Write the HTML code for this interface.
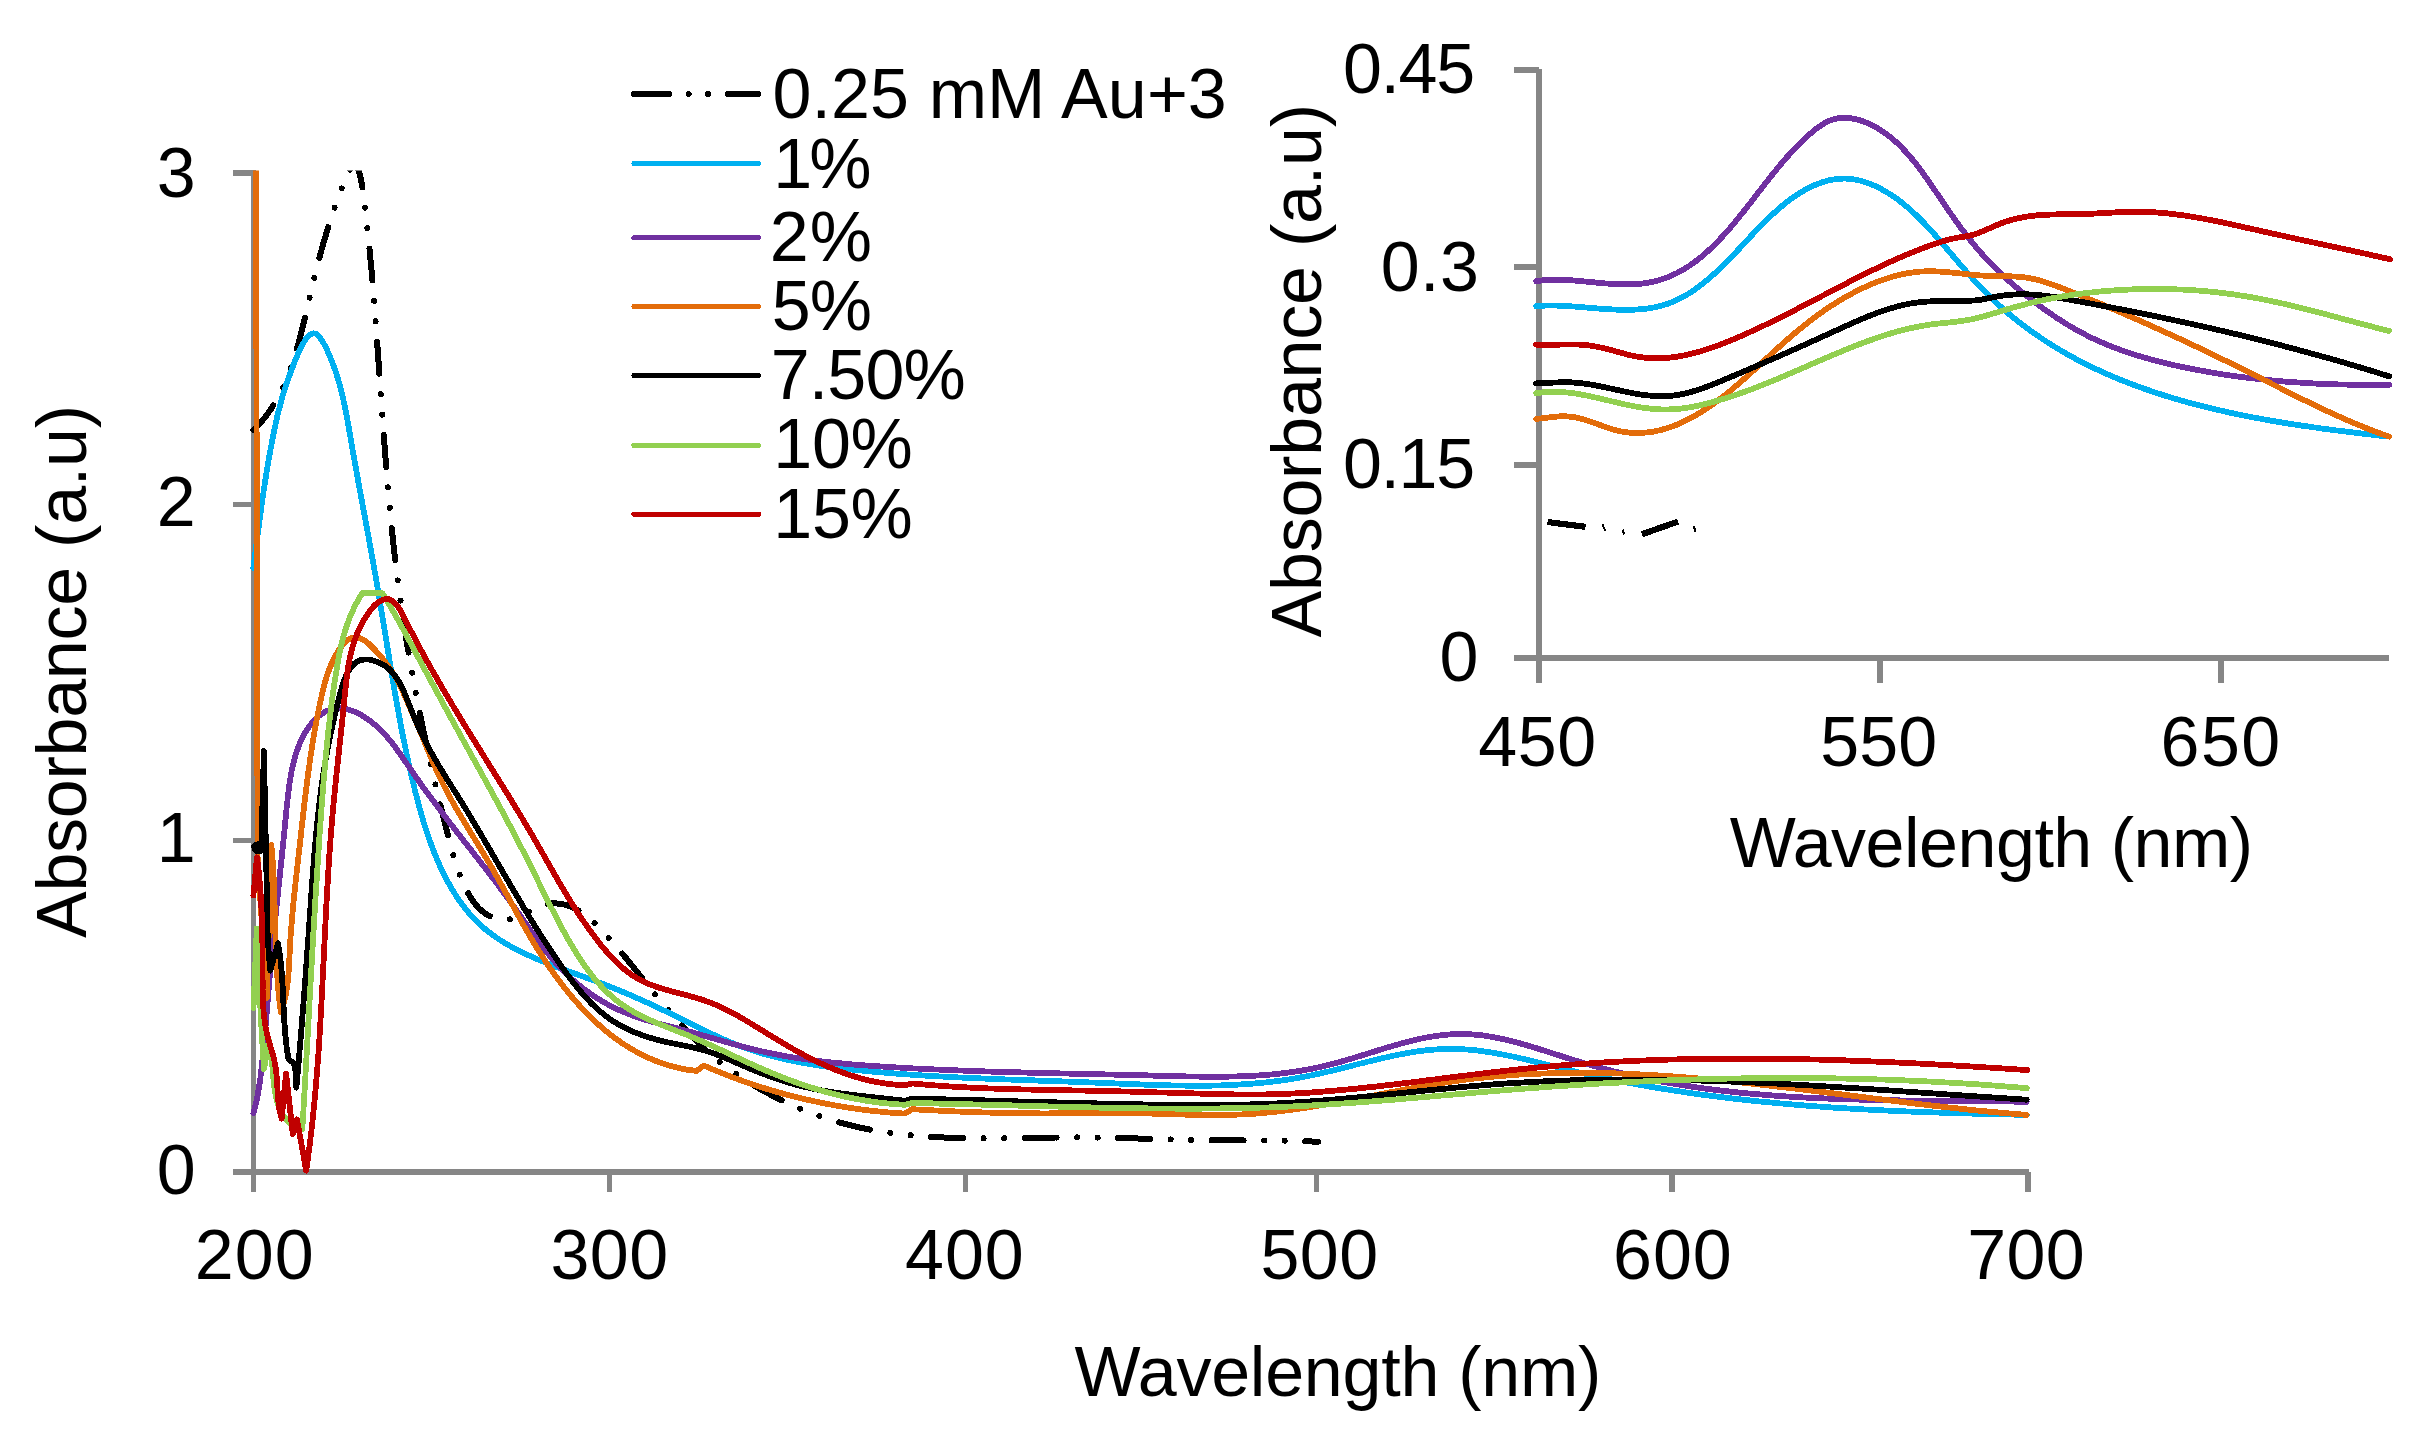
<!DOCTYPE html>
<html><head><meta charset="utf-8"><title>UV-Vis absorbance chart</title>
<style>
html,body{margin:0;padding:0;background:#fff;}
body{width:2418px;height:1433px;overflow:hidden;position:relative;font-family:"Liberation Sans",Arial,sans-serif;}
svg{position:absolute;left:0;top:0;display:block}
text{font-family:"Liberation Sans",Arial,sans-serif;font-size:70px;fill:#000;}
.ax{stroke:#868686;fill:none;stroke-linecap:butt}
.c{fill:none;stroke-width:5.8;stroke-linejoin:round;stroke-linecap:round}
</style></head><body>
<svg width="2418" height="1433" viewBox="0 0 2418 1433" shape-rendering="crispEdges">
<defs><clipPath id="mc"><rect x="240" y="170.5" width="1800" height="1010"/></clipPath></defs>
<rect width="2418" height="1433" fill="#fff"/>

<g class="ax">
<path d="M253.5 170V1192" stroke-width="5"/>
<path d="M233 1172H2029" stroke-width="6"/>
<path d="M233 173.0H253" stroke-width="6"/>
<path d="M233 504.4H253" stroke-width="5"/>
<path d="M233 840.5H253" stroke-width="5"/>
<path d="M609.5 1172V1192" stroke-width="5"/>
<path d="M965.5 1172V1192" stroke-width="5"/>
<path d="M1316.5 1172V1192" stroke-width="5"/>
<path d="M1672.0 1172V1192" stroke-width="6"/>
<path d="M2028.0 1172V1192" stroke-width="6"/>
</g>
<g class="ax" stroke-width="6">
<path d="M1539 69V682.8"/>
<path d="M1514 658H2389"/>
<path d="M1514 465.0H1539"/>
<path d="M1514 267.0H1539"/>
<path d="M1514 70.0H1539"/>
<path d="M1879.8 658V682.8"/>
<path d="M2220.7 658V682.8"/>
</g>
<g class="c" clip-path="url(#mc)">
<path d="M253.3 430.1 C254.4 429.0 257.7 425.8 259.7 423.6 C261.7 421.3 263.6 419.0 265.5 416.6 C267.3 414.3 269.0 411.8 270.7 409.4 C272.4 406.9 273.9 404.4 275.4 401.8 C277.0 399.2 278.4 396.6 279.8 394.0 C281.1 391.3 282.4 388.6 283.7 385.9 C284.9 383.2 286.1 380.4 287.2 377.6 C288.3 374.8 289.4 372.0 290.4 369.1 C291.4 366.3 292.4 363.4 293.3 360.5 C294.3 357.7 295.2 354.8 296.0 351.8 C296.9 348.9 297.7 346.0 298.5 343.0 C299.3 340.1 300.1 337.1 300.8 334.2 C301.6 331.2 302.3 328.3 303.0 325.3 C303.8 322.4 304.5 319.4 305.2 316.4 C305.9 313.5 306.6 310.6 307.3 307.6 C308.0 304.7 308.6 301.8 309.3 298.8 C310.0 295.9 310.7 293.0 311.4 290.1 C312.1 287.2 312.8 284.3 313.5 281.4 C314.2 278.5 314.9 275.6 315.6 272.7 C316.3 269.8 317.1 266.9 317.8 264.1 C318.6 261.2 319.3 258.3 320.1 255.4 C320.8 252.6 321.6 249.7 322.4 246.8 C323.2 244.0 324.0 241.1 324.9 238.2 C325.7 235.4 326.6 232.5 327.4 229.6 C328.3 226.7 329.2 223.9 330.2 221.0 C331.1 218.1 332.0 215.2 333.0 212.3 C334.0 209.3 335.0 206.4 336.1 203.5 C337.1 200.5 338.2 197.6 339.3 194.6 C340.4 191.6 341.6 188.6 342.8 185.6 C344.0 182.7 345.2 179.5 346.5 176.8 C347.7 174.1 349.0 171.2 350.4 169.1 C351.7 167.1 353.2 164.2 354.6 164.4 C356.0 164.6 357.5 168.0 358.6 170.5 C359.7 173.0 360.4 176.6 361.0 179.6 C361.6 182.6 362.0 185.6 362.4 188.6 C362.8 191.6 363.2 194.6 363.6 197.6 C364.0 200.6 364.4 203.6 364.8 206.6 C365.2 209.6 365.6 212.6 365.9 215.6 C366.3 218.6 366.6 221.6 367.0 224.6 C367.3 227.6 367.6 230.6 368.0 233.6 C368.3 236.6 368.6 239.6 368.9 242.6 C369.2 245.6 369.5 248.6 369.8 251.6 C370.1 254.6 370.4 257.7 370.6 260.7 C370.9 263.7 371.2 266.7 371.5 269.7 C371.7 272.7 372.0 275.7 372.2 278.7 C372.5 281.7 372.7 284.7 373.0 287.7 C373.2 290.7 373.5 293.7 373.7 296.7 C374.0 299.7 374.2 302.7 374.4 305.8 C374.7 308.8 374.9 311.8 375.1 314.8 C375.3 317.8 375.6 320.8 375.8 323.8 C376.0 326.8 376.2 329.8 376.5 332.8 C376.7 335.8 376.9 338.8 377.1 341.8 C377.3 344.8 377.5 347.9 377.8 350.9 C378.0 353.9 378.2 356.9 378.4 359.9 C378.6 362.9 378.8 365.9 379.0 368.9 C379.2 371.9 379.4 374.9 379.6 377.9 C379.9 380.9 380.1 383.9 380.3 386.9 C380.5 389.9 380.7 393.0 380.9 396.0 C381.1 399.0 381.3 402.0 381.5 405.0 C381.8 408.0 382.0 411.0 382.2 414.0 C382.4 417.0 382.6 420.0 382.8 423.0 C383.1 426.0 383.3 429.0 383.5 432.0 C383.7 435.0 383.9 438.0 384.2 441.0 C384.4 444.0 384.6 447.0 384.9 450.0 C385.1 453.0 385.3 456.0 385.6 459.0 C385.8 462.0 386.0 465.0 386.3 468.0 C386.5 471.0 386.8 474.0 387.0 477.0 C387.3 480.0 387.5 483.0 387.8 486.0 C388.0 489.0 388.3 492.0 388.6 495.0 C388.8 498.0 389.1 501.0 389.4 504.0 C389.7 507.0 390.0 510.0 390.2 513.0 C390.5 516.0 390.8 519.0 391.1 522.0 C391.4 525.0 391.7 528.0 392.0 531.0 C392.3 534.0 392.7 537.0 393.0 540.0 C393.3 543.0 393.6 545.9 394.0 548.9 C394.3 551.9 394.6 554.9 395.0 557.9 C395.3 560.9 395.7 563.9 396.1 566.9 C396.4 569.9 396.8 572.9 397.2 575.8 C397.6 578.8 397.9 581.8 398.3 584.8 C398.7 587.8 399.1 590.8 399.5 593.8 C399.9 596.7 400.4 599.7 400.8 602.7 C401.2 605.7 401.6 608.7 402.1 611.7 C402.5 614.6 403.0 617.6 403.4 620.6 C403.9 623.6 404.3 626.6 404.8 629.5 C405.3 632.5 405.8 635.5 406.2 638.5 C406.7 641.4 407.2 644.4 407.7 647.4 C408.2 650.4 408.7 653.3 409.2 656.3 C409.7 659.3 410.3 662.3 410.8 665.2 C411.3 668.2 411.9 671.2 412.4 674.1 C412.9 677.1 413.5 680.1 414.0 683.0 C414.6 686.0 415.1 689.0 415.7 691.9 C416.3 694.9 416.8 697.9 417.4 700.8 C418.0 703.8 418.6 706.8 419.2 709.7 C419.8 712.7 420.4 715.6 421.0 718.6 C421.6 721.6 422.2 724.5 422.8 727.5 C423.4 730.4 424.0 733.4 424.7 736.3 C425.3 739.3 425.9 742.2 426.6 745.2 C427.2 748.1 427.9 751.1 428.5 754.0 C429.2 757.0 429.8 759.9 430.5 762.9 C431.1 765.8 431.8 768.8 432.5 771.7 C433.2 774.7 433.8 777.6 434.5 780.5 C435.2 783.5 435.9 786.4 436.6 789.4 C437.3 792.3 438.0 795.2 438.7 798.2 C439.4 801.1 440.1 804.1 440.8 807.0 C441.5 809.9 442.3 812.9 443.0 815.8 C443.7 818.7 444.5 821.6 445.2 824.6 C445.9 827.5 446.7 830.4 447.4 833.4 C448.2 836.3 448.9 839.2 449.7 842.1 C450.4 845.0 451.2 848.0 452.0 850.9 C452.8 853.8 453.6 856.7 454.5 859.5 C455.4 862.4 456.3 865.2 457.3 868.1 C458.2 870.9 459.2 873.7 460.3 876.5 C461.4 879.2 462.6 882.0 463.8 884.7 C465.1 887.4 466.4 890.1 467.9 892.7 C469.3 895.3 470.8 897.9 472.5 900.3 C474.2 902.7 475.9 905.1 477.9 907.2 C479.9 909.3 482.1 911.3 484.5 913.0 C486.9 914.6 489.5 916.1 492.4 917.2 C495.2 918.2 498.4 919.0 501.4 919.3 C504.5 919.7 507.7 919.6 510.7 919.1 C513.7 918.6 516.6 917.5 519.5 916.4 C522.4 915.2 525.1 913.7 527.9 912.2 C530.7 910.8 533.5 909.2 536.3 907.9 C539.2 906.6 542.0 905.4 545.0 904.6 C547.9 903.8 551.0 903.4 554.0 903.4 C557.0 903.3 560.0 903.6 562.9 904.2 C565.7 904.8 568.5 905.7 571.2 906.8 C573.9 907.9 576.5 909.3 579.0 910.9 C581.5 912.4 584.0 914.2 586.4 916.0 C588.7 917.9 591.0 919.9 593.3 922.0 C595.5 924.1 597.7 926.2 599.9 928.4 C602.0 930.6 604.1 932.9 606.2 935.1 C608.3 937.4 610.3 939.7 612.3 941.9 C614.3 944.2 616.3 946.5 618.3 948.8 C620.2 951.2 622.2 953.5 624.1 955.8 C626.0 958.1 627.9 960.5 629.8 962.8 C631.7 965.1 633.6 967.5 635.5 969.8 C637.4 972.2 639.2 974.5 641.1 976.9 C643.0 979.2 644.8 981.5 646.7 983.9 C648.5 986.2 650.4 988.6 652.3 990.9 C654.1 993.2 656.0 995.5 657.9 997.9 C659.8 1000.2 661.7 1002.5 663.6 1004.8 C665.5 1007.1 667.4 1009.3 669.3 1011.6 C671.3 1013.9 673.2 1016.1 675.2 1018.4 C677.2 1020.6 679.1 1022.8 681.2 1025.0 C683.2 1027.2 685.2 1029.4 687.2 1031.6 C689.3 1033.7 691.4 1035.9 693.5 1038.0 C695.5 1040.1 697.7 1042.2 699.8 1044.2 C702.0 1046.3 704.1 1048.3 706.4 1050.3 C708.6 1052.3 710.8 1054.3 713.1 1056.3 C715.4 1058.2 717.7 1060.1 720.0 1062.0 C722.3 1063.9 724.7 1065.7 727.1 1067.5 C729.5 1069.3 732.0 1071.1 734.5 1072.8 C736.9 1074.5 739.4 1076.2 742.0 1077.9 C744.5 1079.6 747.1 1081.2 749.7 1082.8 C752.3 1084.4 754.9 1086.0 757.5 1087.5 C760.1 1089.0 762.8 1090.5 765.5 1092.0 C768.2 1093.5 770.9 1094.9 773.6 1096.3 C776.3 1097.7 779.1 1099.1 781.8 1100.4 C784.6 1101.7 787.4 1103.1 790.2 1104.3 C793.0 1105.6 795.8 1106.8 798.6 1108.0 C801.4 1109.2 804.2 1110.4 807.1 1111.5 C809.9 1112.6 812.7 1113.7 815.6 1114.8 C818.4 1115.8 821.3 1116.8 824.2 1117.8 C827.0 1118.7 829.9 1119.6 832.8 1120.5 C835.7 1121.4 838.5 1122.2 841.4 1123.0 C844.3 1123.8 847.2 1124.5 850.1 1125.2 C853.0 1126.0 855.9 1126.6 858.8 1127.3 C861.7 1127.9 864.6 1128.5 867.5 1129.1 C870.4 1129.7 873.4 1130.2 876.3 1130.7 C879.2 1131.2 882.1 1131.7 885.1 1132.1 C888.0 1132.6 890.9 1133.0 893.9 1133.4 C896.8 1133.8 899.8 1134.1 902.7 1134.5 C905.7 1134.8 908.6 1135.1 911.6 1135.4 C914.5 1135.6 917.5 1135.9 920.4 1136.1 C923.4 1136.4 926.4 1136.6 929.3 1136.8 C932.3 1137.0 935.3 1137.1 938.3 1137.3 C941.2 1137.4 944.2 1137.5 947.2 1137.7 C950.2 1137.8 953.2 1137.9 956.2 1138.0 C959.1 1138.0 962.1 1138.1 965.1 1138.2 C968.1 1138.2 971.1 1138.2 974.1 1138.3 C977.1 1138.3 980.1 1138.3 983.1 1138.3 C986.1 1138.3 989.1 1138.3 992.1 1138.3 C995.2 1138.3 998.2 1138.3 1001.2 1138.2 C1004.2 1138.2 1007.2 1138.2 1010.2 1138.2 C1013.2 1138.1 1016.3 1138.1 1019.3 1138.0 C1022.3 1138.0 1025.3 1137.9 1028.4 1137.9 C1031.4 1137.9 1034.4 1137.8 1037.4 1137.8 C1040.5 1137.7 1043.5 1137.7 1046.5 1137.6 C1049.5 1137.6 1052.6 1137.6 1055.6 1137.5 C1058.6 1137.5 1061.7 1137.5 1064.7 1137.5 C1067.7 1137.4 1070.8 1137.4 1073.8 1137.4 C1076.8 1137.4 1079.9 1137.4 1082.9 1137.4 C1086.0 1137.5 1089.0 1137.5 1092.0 1137.5 C1095.1 1137.5 1098.1 1137.6 1101.1 1137.6 C1104.2 1137.7 1107.2 1137.7 1110.3 1137.8 C1113.3 1137.9 1116.3 1137.9 1119.4 1138.0 C1122.4 1138.1 1125.5 1138.1 1128.5 1138.2 C1131.5 1138.3 1134.6 1138.4 1137.6 1138.5 C1140.6 1138.5 1143.7 1138.6 1146.7 1138.7 C1149.8 1138.8 1152.8 1138.9 1155.8 1139.0 C1158.9 1139.1 1161.9 1139.1 1164.9 1139.2 C1168.0 1139.3 1171.0 1139.4 1174.0 1139.5 C1177.1 1139.6 1180.1 1139.6 1183.1 1139.7 C1186.1 1139.8 1189.2 1139.9 1192.2 1139.9 C1195.2 1140.0 1198.2 1140.0 1201.3 1140.1 C1204.3 1140.1 1207.3 1140.2 1210.3 1140.2 C1213.4 1140.3 1216.4 1140.3 1219.4 1140.3 C1222.4 1140.3 1225.4 1140.4 1228.4 1140.4 C1231.4 1140.4 1234.5 1140.4 1237.5 1140.4 C1240.5 1140.4 1243.5 1140.4 1246.5 1140.4 C1249.5 1140.4 1252.5 1140.4 1255.5 1140.4 C1258.5 1140.4 1261.5 1140.5 1264.5 1140.5 C1267.5 1140.5 1270.5 1140.5 1273.4 1140.5 C1276.4 1140.6 1279.4 1140.6 1282.4 1140.6 C1285.4 1140.7 1288.4 1140.7 1291.3 1140.8 C1294.3 1140.9 1297.3 1141.0 1300.2 1141.0 C1303.2 1141.1 1306.2 1141.2 1309.1 1141.4 C1312.1 1141.5 1316.5 1141.7 1318.0 1141.8" stroke="#000" stroke-dasharray="32 20.5 0.01 20.5 0.01 20.5" stroke-dashoffset="0" style="stroke-linecap:round;stroke-width:6"/>
<path d="M253.3 568.1 C253.5 566.5 254.1 562.0 254.5 559.0 C254.9 556.0 255.3 553.0 255.7 550.0 C256.0 547.0 256.4 544.0 256.8 541.0 C257.2 538.0 257.6 535.0 258.0 532.1 C258.4 529.1 258.8 526.1 259.2 523.1 C259.6 520.1 260.0 517.1 260.4 514.1 C260.8 511.1 261.2 508.2 261.6 505.2 C262.0 502.2 262.5 499.2 262.9 496.2 C263.3 493.3 263.8 490.3 264.2 487.3 C264.7 484.4 265.1 481.4 265.6 478.4 C266.1 475.4 266.6 472.5 267.0 469.5 C267.5 466.5 268.0 463.6 268.5 460.6 C269.1 457.7 269.6 454.7 270.1 451.7 C270.7 448.8 271.2 445.8 271.8 442.9 C272.3 439.9 272.9 436.9 273.5 434.0 C274.1 431.0 274.7 428.1 275.4 425.1 C276.0 422.2 276.6 419.3 277.3 416.3 C278.0 413.4 278.7 410.5 279.5 407.6 C280.2 404.6 281.0 401.7 281.8 398.9 C282.6 396.0 283.5 393.1 284.4 390.2 C285.3 387.4 286.2 384.5 287.2 381.7 C288.2 378.8 289.3 375.9 290.4 373.0 C291.5 370.0 292.6 367.0 293.8 364.0 C295.0 360.9 296.3 357.7 297.6 354.7 C299.0 351.6 300.4 348.5 301.8 345.8 C303.3 343.1 304.9 340.3 306.4 338.4 C308.0 336.4 309.6 334.6 311.3 333.9 C312.9 333.2 314.6 333.2 316.2 334.0 C317.8 334.9 319.4 336.8 321.0 339.0 C322.5 341.1 324.1 344.1 325.5 346.8 C326.9 349.6 328.3 352.7 329.5 355.7 C330.8 358.6 332.0 361.5 333.1 364.5 C334.2 367.4 335.3 370.4 336.2 373.3 C337.2 376.3 338.1 379.2 339.0 382.2 C339.8 385.1 340.6 388.1 341.3 391.0 C342.1 394.0 342.8 397.0 343.4 399.9 C344.1 402.9 344.7 405.8 345.3 408.8 C345.9 411.7 346.5 414.7 347.0 417.6 C347.6 420.6 348.1 423.6 348.6 426.5 C349.1 429.5 349.6 432.4 350.1 435.4 C350.7 438.4 351.2 441.3 351.7 444.3 C352.2 447.3 352.7 450.2 353.2 453.2 C353.7 456.2 354.3 459.1 354.8 462.1 C355.3 465.0 355.9 468.0 356.4 471.0 C356.9 473.9 357.5 476.9 358.0 479.9 C358.5 482.9 359.1 485.8 359.6 488.8 C360.2 491.8 360.7 494.7 361.3 497.7 C361.8 500.7 362.4 503.6 362.9 506.6 C363.5 509.6 364.0 512.5 364.6 515.5 C365.1 518.5 365.7 521.5 366.2 524.4 C366.8 527.4 367.3 530.4 367.9 533.3 C368.4 536.3 369.0 539.3 369.5 542.3 C370.0 545.2 370.6 548.2 371.1 551.2 C371.7 554.1 372.2 557.1 372.7 560.1 C373.3 563.1 373.8 566.0 374.3 569.0 C374.8 572.0 375.4 575.0 375.9 577.9 C376.4 580.9 376.9 583.9 377.4 586.8 C377.9 589.8 378.4 592.8 378.9 595.8 C379.4 598.7 379.9 601.7 380.4 604.7 C380.9 607.6 381.4 610.6 381.9 613.6 C382.4 616.6 382.9 619.5 383.4 622.5 C383.8 625.5 384.3 628.4 384.8 631.4 C385.3 634.4 385.8 637.4 386.3 640.3 C386.7 643.3 387.2 646.3 387.7 649.2 C388.2 652.2 388.7 655.2 389.2 658.1 C389.6 661.1 390.1 664.1 390.6 667.0 C391.1 670.0 391.6 673.0 392.1 675.9 C392.6 678.9 393.1 681.9 393.6 684.8 C394.1 687.8 394.6 690.8 395.1 693.7 C395.7 696.7 396.2 699.7 396.7 702.6 C397.2 705.6 397.8 708.6 398.3 711.5 C398.8 714.5 399.4 717.4 399.9 720.4 C400.5 723.4 401.1 726.3 401.6 729.3 C402.2 732.3 402.8 735.2 403.4 738.2 C404.0 741.1 404.6 744.1 405.2 747.0 C405.8 750.0 406.4 753.0 407.0 755.9 C407.7 758.9 408.3 761.8 409.0 764.8 C409.6 767.7 410.3 770.7 411.0 773.7 C411.7 776.6 412.3 779.6 413.1 782.5 C413.8 785.5 414.5 788.4 415.2 791.4 C416.0 794.3 416.7 797.3 417.5 800.2 C418.3 803.1 419.0 806.1 419.9 809.0 C420.7 811.9 421.5 814.9 422.4 817.8 C423.2 820.7 424.1 823.6 425.0 826.5 C425.9 829.4 426.9 832.3 427.9 835.2 C428.8 838.0 429.8 840.9 430.9 843.7 C431.9 846.6 433.0 849.4 434.1 852.2 C435.2 855.0 436.4 857.8 437.6 860.6 C438.8 863.3 440.0 866.1 441.3 868.8 C442.6 871.5 443.9 874.2 445.3 876.9 C446.7 879.6 448.1 882.2 449.5 884.8 C451.0 887.5 452.5 890.1 454.1 892.6 C455.7 895.1 457.3 897.6 459.0 900.1 C460.7 902.5 462.4 905.0 464.3 907.3 C466.1 909.6 467.9 911.9 469.9 914.2 C471.8 916.4 473.8 918.5 475.8 920.6 C477.9 922.7 480.0 924.7 482.2 926.6 C484.4 928.6 486.7 930.4 489.0 932.2 C491.3 934.0 493.7 935.7 496.1 937.4 C498.5 939.1 501.0 940.7 503.5 942.2 C506.1 943.8 508.6 945.3 511.3 946.7 C513.9 948.2 516.5 949.5 519.2 950.9 C521.9 952.3 524.6 953.6 527.4 954.8 C530.2 956.1 533.0 957.3 535.8 958.6 C538.6 959.8 541.4 960.9 544.3 962.1 C547.1 963.2 550.0 964.4 552.9 965.5 C555.7 966.6 558.6 967.7 561.5 968.7 C564.4 969.8 567.3 970.9 570.2 971.9 C573.2 973.0 576.1 974.0 579.0 975.1 C581.9 976.1 584.8 977.2 587.6 978.2 C590.5 979.3 593.4 980.3 596.3 981.4 C599.1 982.5 601.9 983.6 604.8 984.7 C607.6 985.8 610.4 986.9 613.2 988.0 C616.0 989.1 618.8 990.3 621.5 991.4 C624.3 992.5 627.0 993.7 629.8 994.9 C632.5 996.1 635.3 997.2 638.0 998.5 C640.7 999.7 643.4 1000.9 646.1 1002.1 C648.8 1003.3 651.5 1004.6 654.2 1005.8 C656.9 1007.1 659.6 1008.4 662.3 1009.7 C665.0 1010.9 667.7 1012.2 670.4 1013.6 C673.1 1014.9 675.8 1016.2 678.5 1017.6 C681.1 1018.9 683.8 1020.2 686.5 1021.6 C689.2 1022.9 691.9 1024.3 694.6 1025.6 C697.3 1027.0 700.0 1028.3 702.7 1029.6 C705.5 1030.9 708.2 1032.3 710.9 1033.5 C713.6 1034.8 716.4 1036.1 719.1 1037.3 C721.9 1038.6 724.6 1039.8 727.4 1041.0 C730.2 1042.2 732.9 1043.3 735.7 1044.4 C738.5 1045.5 741.4 1046.6 744.2 1047.6 C747.0 1048.6 749.9 1049.6 752.7 1050.5 C755.6 1051.4 758.4 1052.3 761.3 1053.2 C764.2 1054.0 767.1 1054.8 770.0 1055.6 C772.9 1056.4 775.9 1057.1 778.8 1057.8 C781.7 1058.5 784.7 1059.2 787.6 1059.8 C790.6 1060.5 793.5 1061.1 796.5 1061.7 C799.5 1062.2 802.5 1062.8 805.4 1063.3 C808.4 1063.8 811.4 1064.3 814.4 1064.8 C817.4 1065.3 820.4 1065.7 823.4 1066.2 C826.4 1066.6 829.4 1067.0 832.5 1067.4 C835.5 1067.8 838.5 1068.1 841.5 1068.5 C844.6 1068.8 847.6 1069.2 850.6 1069.5 C853.6 1069.8 856.7 1070.1 859.7 1070.4 C862.7 1070.7 865.8 1071.0 868.8 1071.3 C871.8 1071.6 874.8 1071.9 877.9 1072.1 C880.9 1072.4 883.9 1072.6 886.9 1072.9 C890.0 1073.1 893.0 1073.4 896.0 1073.6 C899.0 1073.8 902.1 1074.0 905.1 1074.3 C908.1 1074.5 911.1 1074.7 914.2 1074.9 C917.2 1075.1 920.2 1075.3 923.2 1075.5 C926.3 1075.7 929.3 1075.8 932.3 1076.0 C935.3 1076.2 938.3 1076.4 941.4 1076.5 C944.4 1076.7 947.4 1076.8 950.4 1077.0 C953.4 1077.2 956.4 1077.3 959.5 1077.5 C962.5 1077.6 965.5 1077.7 968.5 1077.9 C971.5 1078.0 974.5 1078.1 977.6 1078.3 C980.6 1078.4 983.6 1078.5 986.6 1078.7 C989.6 1078.8 992.6 1078.9 995.6 1079.0 C998.7 1079.1 1001.7 1079.3 1004.7 1079.4 C1007.7 1079.5 1010.7 1079.6 1013.7 1079.7 C1016.7 1079.8 1019.7 1079.9 1022.7 1080.0 C1025.7 1080.1 1028.8 1080.2 1031.8 1080.3 C1034.8 1080.4 1037.8 1080.6 1040.8 1080.7 C1043.8 1080.8 1046.8 1080.9 1049.8 1081.0 C1052.8 1081.1 1055.8 1081.2 1058.8 1081.3 C1061.8 1081.4 1064.8 1081.5 1067.8 1081.6 C1070.8 1081.7 1073.8 1081.8 1076.8 1081.9 C1079.9 1082.0 1082.9 1082.1 1085.9 1082.3 C1088.9 1082.4 1091.9 1082.5 1094.9 1082.6 C1097.9 1082.7 1100.9 1082.8 1103.9 1083.0 C1106.9 1083.1 1109.9 1083.2 1112.9 1083.3 C1115.9 1083.5 1118.9 1083.6 1121.9 1083.7 C1124.9 1083.8 1127.9 1084.0 1130.9 1084.1 C1133.9 1084.2 1136.9 1084.3 1139.8 1084.4 C1142.8 1084.5 1145.8 1084.7 1148.8 1084.8 C1151.8 1084.9 1154.8 1085.0 1157.8 1085.1 C1160.8 1085.2 1163.8 1085.2 1166.8 1085.3 C1169.8 1085.4 1172.8 1085.5 1175.8 1085.5 C1178.8 1085.6 1181.8 1085.6 1184.8 1085.6 C1187.8 1085.7 1190.7 1085.7 1193.7 1085.7 C1196.7 1085.7 1199.7 1085.7 1202.7 1085.7 C1205.7 1085.7 1208.7 1085.6 1211.7 1085.6 C1214.7 1085.5 1217.7 1085.5 1220.7 1085.4 C1223.6 1085.3 1226.6 1085.2 1229.6 1085.0 C1232.6 1084.9 1235.6 1084.8 1238.6 1084.6 C1241.6 1084.4 1244.6 1084.2 1247.5 1084.0 C1250.5 1083.8 1253.5 1083.6 1256.5 1083.3 C1259.5 1083.1 1262.5 1082.8 1265.5 1082.5 C1268.4 1082.2 1271.4 1081.8 1274.4 1081.4 C1277.4 1081.1 1280.4 1080.7 1283.4 1080.3 C1286.3 1079.8 1289.3 1079.4 1292.3 1078.9 C1295.3 1078.4 1298.3 1077.9 1301.3 1077.3 C1304.2 1076.8 1307.2 1076.2 1310.2 1075.6 C1313.2 1075.0 1316.2 1074.3 1319.1 1073.7 C1322.1 1073.0 1325.1 1072.3 1328.1 1071.6 C1331.1 1070.9 1334.1 1070.2 1337.0 1069.4 C1340.0 1068.7 1343.0 1068.0 1346.0 1067.2 C1348.9 1066.5 1351.9 1065.7 1354.9 1064.9 C1357.9 1064.2 1360.9 1063.4 1363.8 1062.7 C1366.8 1061.9 1369.8 1061.2 1372.8 1060.5 C1375.7 1059.8 1378.7 1059.0 1381.7 1058.4 C1384.7 1057.7 1387.7 1057.0 1390.6 1056.4 C1393.6 1055.7 1396.6 1055.1 1399.6 1054.5 C1402.5 1053.9 1405.5 1053.4 1408.5 1052.9 C1411.5 1052.4 1414.4 1051.9 1417.4 1051.4 C1420.4 1051.0 1423.3 1050.6 1426.3 1050.3 C1429.3 1050.0 1432.3 1049.7 1435.2 1049.5 C1438.2 1049.3 1441.2 1049.1 1444.2 1049.0 C1447.1 1048.9 1450.1 1048.9 1453.1 1048.9 C1456.0 1048.9 1459.0 1049.0 1462.0 1049.2 C1465.0 1049.4 1467.9 1049.6 1470.9 1049.8 C1473.9 1050.1 1476.8 1050.4 1479.8 1050.8 C1482.8 1051.2 1485.8 1051.6 1488.7 1052.1 C1491.7 1052.5 1494.7 1053.0 1497.6 1053.6 C1500.6 1054.1 1503.6 1054.7 1506.5 1055.3 C1509.5 1055.9 1512.5 1056.5 1515.4 1057.1 C1518.4 1057.8 1521.4 1058.5 1524.4 1059.2 C1527.3 1059.8 1530.3 1060.6 1533.3 1061.3 C1536.2 1062.0 1539.2 1062.7 1542.2 1063.5 C1545.1 1064.2 1548.1 1064.9 1551.1 1065.7 C1554.0 1066.4 1557.0 1067.1 1560.0 1067.9 C1562.9 1068.6 1565.9 1069.3 1568.9 1070.0 C1571.8 1070.7 1574.8 1071.4 1577.8 1072.1 C1580.7 1072.8 1583.7 1073.5 1586.7 1074.1 C1589.6 1074.8 1592.6 1075.5 1595.5 1076.1 C1598.5 1076.7 1601.5 1077.4 1604.4 1078.0 C1607.4 1078.6 1610.4 1079.2 1613.3 1079.8 C1616.3 1080.4 1619.3 1081.0 1622.2 1081.6 C1625.2 1082.1 1628.2 1082.7 1631.1 1083.3 C1634.1 1083.8 1637.1 1084.4 1640.0 1084.9 C1643.0 1085.4 1646.0 1085.9 1648.9 1086.5 C1651.9 1087.0 1654.9 1087.5 1657.8 1088.0 C1660.8 1088.5 1663.8 1088.9 1666.7 1089.4 C1669.7 1089.9 1672.7 1090.4 1675.6 1090.8 C1678.6 1091.3 1681.6 1091.7 1684.5 1092.2 C1687.5 1092.6 1690.5 1093.0 1693.4 1093.5 C1696.4 1093.9 1699.4 1094.3 1702.3 1094.7 C1705.3 1095.1 1708.3 1095.5 1711.3 1095.9 C1714.2 1096.3 1717.2 1096.6 1720.2 1097.0 C1723.1 1097.4 1726.1 1097.7 1729.1 1098.1 C1732.1 1098.4 1735.0 1098.8 1738.0 1099.1 C1741.0 1099.5 1744.0 1099.8 1746.9 1100.1 C1749.9 1100.4 1752.9 1100.8 1755.9 1101.1 C1758.8 1101.4 1761.8 1101.7 1764.8 1102.0 C1767.8 1102.3 1770.8 1102.5 1773.7 1102.8 C1776.7 1103.1 1779.7 1103.4 1782.7 1103.6 C1785.7 1103.9 1788.6 1104.2 1791.6 1104.4 C1794.6 1104.7 1797.6 1104.9 1800.6 1105.2 C1803.6 1105.4 1806.5 1105.6 1809.5 1105.9 C1812.5 1106.1 1815.5 1106.3 1818.5 1106.5 C1821.5 1106.8 1824.5 1107.0 1827.5 1107.2 C1830.4 1107.4 1833.4 1107.6 1836.4 1107.8 C1839.4 1108.0 1842.4 1108.1 1845.4 1108.3 C1848.4 1108.5 1851.4 1108.7 1854.4 1108.9 C1857.4 1109.0 1860.4 1109.2 1863.4 1109.4 C1866.4 1109.5 1869.4 1109.7 1872.4 1109.9 C1875.4 1110.0 1878.4 1110.2 1881.4 1110.3 C1884.4 1110.4 1887.4 1110.6 1890.4 1110.7 C1893.4 1110.9 1896.4 1111.0 1899.4 1111.1 C1902.5 1111.3 1905.5 1111.4 1908.5 1111.5 C1911.5 1111.6 1914.5 1111.7 1917.5 1111.9 C1920.5 1112.0 1923.5 1112.1 1926.6 1112.2 C1929.6 1112.3 1932.6 1112.4 1935.6 1112.5 C1938.6 1112.6 1941.7 1112.7 1944.7 1112.8 C1947.7 1112.9 1950.7 1113.0 1953.8 1113.1 C1956.8 1113.2 1959.8 1113.3 1962.9 1113.4 C1965.9 1113.4 1968.9 1113.5 1971.9 1113.6 C1975.0 1113.7 1978.0 1113.8 1981.1 1113.8 C1984.1 1113.9 1987.1 1114.0 1990.2 1114.1 C1993.2 1114.2 1996.3 1114.2 1999.3 1114.3 C2002.3 1114.4 2005.4 1114.4 2008.4 1114.5 C2011.5 1114.6 2014.5 1114.6 2017.6 1114.7 C2020.6 1114.8 2025.2 1114.9 2026.7 1114.9" stroke="#00B0F0"/>
<path d="M253.4 1113.0 C253.8 1111.5 255.1 1107.0 255.8 1104.0 C256.5 1101.0 257.1 1098.0 257.7 1095.0 C258.2 1092.0 258.7 1089.0 259.2 1086.1 C259.7 1083.1 260.1 1080.1 260.5 1077.1 C260.9 1074.1 261.2 1071.1 261.6 1068.2 C261.9 1065.2 262.2 1062.2 262.5 1059.2 C262.8 1056.3 263.1 1053.3 263.4 1050.3 C263.6 1047.4 263.9 1044.4 264.2 1041.4 C264.5 1038.5 264.7 1035.5 265.0 1032.5 C265.2 1029.6 265.5 1026.6 265.8 1023.6 C266.0 1020.7 266.3 1017.7 266.5 1014.8 C266.8 1011.8 267.0 1008.9 267.3 1005.9 C267.5 1002.9 267.8 1000.0 268.0 997.0 C268.3 994.1 268.5 991.1 268.8 988.1 C269.0 985.2 269.3 982.2 269.5 979.3 C269.8 976.3 270.0 973.3 270.3 970.4 C270.6 967.4 270.8 964.5 271.1 961.5 C271.4 958.5 271.7 955.6 272.0 952.6 C272.2 949.6 272.5 946.7 272.8 943.7 C273.1 940.7 273.4 937.7 273.7 934.8 C274.0 931.8 274.3 928.8 274.6 925.8 C274.9 922.9 275.2 919.9 275.5 916.9 C275.8 913.9 276.1 910.9 276.4 907.9 C276.7 904.9 277.1 901.9 277.4 898.9 C277.7 895.9 278.0 892.9 278.3 889.9 C278.6 886.9 278.9 883.9 279.3 880.9 C279.6 877.9 279.9 874.8 280.2 871.8 C280.5 868.8 280.8 865.7 281.2 862.7 C281.5 859.7 281.8 856.6 282.1 853.6 C282.4 850.5 282.7 847.5 283.1 844.4 C283.4 841.4 283.7 838.3 284.0 835.2 C284.3 832.2 284.6 829.1 284.9 826.0 C285.2 822.9 285.5 819.8 285.8 816.7 C286.1 813.7 286.4 810.5 286.7 807.4 C287.0 804.3 287.4 801.2 287.7 798.1 C288.0 795.0 288.4 791.9 288.8 788.9 C289.2 785.8 289.6 782.7 290.1 779.7 C290.6 776.7 291.1 773.6 291.7 770.7 C292.3 767.7 293.0 764.7 293.7 761.8 C294.4 758.9 295.2 756.0 296.2 753.2 C297.1 750.4 298.1 747.6 299.2 744.9 C300.3 742.1 301.5 739.5 302.8 736.9 C304.2 734.2 305.6 731.7 307.2 729.3 C308.8 726.8 310.5 724.5 312.3 722.4 C314.1 720.2 316.1 718.2 318.2 716.5 C320.3 714.7 322.5 713.2 324.8 712.0 C327.2 710.7 329.6 709.7 332.1 709.1 C334.7 708.5 337.3 708.2 339.9 708.3 C342.6 708.4 345.3 708.8 348.0 709.5 C350.6 710.2 353.4 711.2 356.1 712.4 C358.7 713.6 361.4 715.1 364.0 716.7 C366.6 718.4 369.2 720.2 371.7 722.2 C374.2 724.1 376.6 726.3 378.9 728.4 C381.2 730.6 383.4 732.9 385.5 735.2 C387.6 737.5 389.6 739.9 391.5 742.3 C393.5 744.8 395.3 747.2 397.1 749.8 C399.0 752.3 400.7 754.8 402.5 757.3 C404.2 759.9 405.9 762.4 407.7 765.0 C409.4 767.5 411.1 770.1 412.9 772.6 C414.6 775.1 416.4 777.6 418.1 780.1 C419.9 782.6 421.6 785.1 423.4 787.6 C425.2 790.0 427.0 792.5 428.8 794.9 C430.6 797.4 432.4 799.8 434.2 802.2 C436.0 804.6 437.8 807.0 439.6 809.4 C441.4 811.8 443.3 814.2 445.1 816.6 C446.9 819.0 448.8 821.4 450.6 823.8 C452.4 826.1 454.3 828.5 456.1 830.9 C457.9 833.2 459.8 835.6 461.6 838.0 C463.5 840.3 465.3 842.7 467.1 845.0 C469.0 847.4 470.8 849.7 472.7 852.1 C474.5 854.4 476.3 856.8 478.2 859.1 C480.0 861.5 481.8 863.9 483.7 866.2 C485.5 868.6 487.3 871.0 489.1 873.3 C490.9 875.7 492.7 878.1 494.6 880.4 C496.4 882.8 498.2 885.2 499.9 887.6 C501.7 890.0 503.5 892.4 505.3 894.8 C507.1 897.2 508.8 899.6 510.6 902.1 C512.4 904.5 514.1 906.9 515.8 909.4 C517.6 911.9 519.3 914.3 521.0 916.8 C522.8 919.2 524.5 921.7 526.2 924.2 C528.0 926.7 529.7 929.1 531.4 931.6 C533.2 934.0 535.0 936.5 536.7 938.9 C538.5 941.4 540.3 943.8 542.2 946.2 C544.0 948.6 545.9 951.0 547.8 953.3 C549.7 955.7 551.6 958.0 553.6 960.3 C555.6 962.6 557.6 964.9 559.7 967.1 C561.8 969.3 563.9 971.5 566.1 973.7 C568.3 975.8 570.6 977.9 572.9 980.0 C575.2 982.0 577.6 984.0 580.0 986.0 C582.5 987.9 584.9 989.8 587.5 991.6 C590.0 993.4 592.6 995.2 595.2 996.9 C597.7 998.6 600.4 1000.2 603.0 1001.7 C605.7 1003.3 608.4 1004.8 611.1 1006.2 C613.8 1007.5 616.5 1008.9 619.2 1010.1 C621.9 1011.3 624.6 1012.5 627.4 1013.5 C630.1 1014.6 632.8 1015.6 635.6 1016.6 C638.4 1017.6 641.1 1018.5 643.9 1019.3 C646.7 1020.2 649.4 1021.0 652.2 1021.8 C655.0 1022.6 657.8 1023.4 660.6 1024.1 C663.4 1024.9 666.2 1025.6 669.1 1026.3 C671.9 1027.1 674.7 1027.8 677.6 1028.5 C680.4 1029.2 683.2 1030.0 686.1 1030.7 C688.9 1031.5 691.8 1032.3 694.7 1033.1 C697.5 1033.8 700.4 1034.7 703.3 1035.5 C706.2 1036.3 709.1 1037.1 711.9 1038.0 C714.8 1038.8 717.7 1039.6 720.6 1040.5 C723.5 1041.3 726.5 1042.1 729.4 1043.0 C732.3 1043.8 735.2 1044.6 738.1 1045.4 C741.1 1046.2 744.0 1047.0 746.9 1047.7 C749.9 1048.5 752.8 1049.2 755.8 1049.9 C758.7 1050.6 761.7 1051.3 764.6 1052.0 C767.6 1052.6 770.5 1053.3 773.5 1053.8 C776.5 1054.4 779.4 1055.0 782.4 1055.6 C785.4 1056.1 788.4 1056.6 791.3 1057.1 C794.3 1057.6 797.3 1058.1 800.3 1058.5 C803.3 1059.0 806.3 1059.4 809.3 1059.8 C812.3 1060.2 815.3 1060.6 818.3 1060.9 C821.3 1061.3 824.3 1061.7 827.3 1062.0 C830.3 1062.3 833.3 1062.6 836.3 1062.9 C839.3 1063.2 842.3 1063.5 845.3 1063.8 C848.3 1064.1 851.3 1064.3 854.4 1064.6 C857.4 1064.8 860.4 1065.1 863.4 1065.3 C866.4 1065.5 869.4 1065.7 872.5 1065.9 C875.5 1066.1 878.5 1066.3 881.5 1066.5 C884.5 1066.7 887.6 1066.9 890.6 1067.1 C893.6 1067.3 896.6 1067.5 899.6 1067.6 C902.7 1067.8 905.7 1068.0 908.7 1068.2 C911.7 1068.3 914.8 1068.5 917.8 1068.6 C920.8 1068.8 923.8 1068.9 926.8 1069.1 C929.9 1069.2 932.9 1069.4 935.9 1069.5 C938.9 1069.6 942.0 1069.8 945.0 1069.9 C948.0 1070.0 951.0 1070.1 954.1 1070.3 C957.1 1070.4 960.1 1070.5 963.1 1070.6 C966.1 1070.7 969.2 1070.8 972.2 1071.0 C975.2 1071.1 978.2 1071.2 981.3 1071.3 C984.3 1071.4 987.3 1071.5 990.3 1071.6 C993.4 1071.7 996.4 1071.7 999.4 1071.8 C1002.4 1071.9 1005.4 1072.0 1008.5 1072.1 C1011.5 1072.2 1014.5 1072.3 1017.5 1072.3 C1020.6 1072.4 1023.6 1072.5 1026.6 1072.6 C1029.6 1072.7 1032.6 1072.7 1035.7 1072.8 C1038.7 1072.9 1041.7 1073.0 1044.7 1073.0 C1047.7 1073.1 1050.8 1073.2 1053.8 1073.3 C1056.8 1073.3 1059.8 1073.4 1062.8 1073.5 C1065.9 1073.5 1068.9 1073.6 1071.9 1073.7 C1074.9 1073.7 1077.9 1073.8 1080.9 1073.9 C1084.0 1073.9 1087.0 1074.0 1090.0 1074.1 C1093.0 1074.1 1096.0 1074.2 1099.0 1074.3 C1102.0 1074.3 1105.1 1074.4 1108.1 1074.5 C1111.1 1074.5 1114.1 1074.6 1117.1 1074.7 C1120.1 1074.7 1123.1 1074.8 1126.1 1074.9 C1129.2 1075.0 1132.2 1075.0 1135.2 1075.1 C1138.2 1075.2 1141.2 1075.3 1144.2 1075.3 C1147.2 1075.4 1150.2 1075.5 1153.2 1075.6 C1156.2 1075.6 1159.2 1075.7 1162.2 1075.8 C1165.2 1075.9 1168.2 1076.0 1171.2 1076.0 C1174.2 1076.1 1177.2 1076.2 1180.2 1076.3 C1183.2 1076.3 1186.2 1076.4 1189.2 1076.5 C1192.2 1076.5 1195.2 1076.6 1198.2 1076.6 C1201.2 1076.7 1204.2 1076.7 1207.2 1076.7 C1210.2 1076.7 1213.2 1076.7 1216.2 1076.7 C1219.1 1076.7 1222.1 1076.7 1225.1 1076.7 C1228.1 1076.6 1231.1 1076.6 1234.1 1076.5 C1237.1 1076.4 1240.0 1076.3 1243.0 1076.2 C1246.0 1076.1 1249.0 1076.0 1252.0 1075.8 C1255.0 1075.7 1257.9 1075.5 1260.9 1075.3 C1263.9 1075.1 1266.9 1074.8 1269.8 1074.6 C1272.8 1074.3 1275.8 1074.0 1278.8 1073.7 C1281.7 1073.4 1284.7 1073.0 1287.7 1072.6 C1290.6 1072.2 1293.6 1071.8 1296.6 1071.4 C1299.5 1070.9 1302.5 1070.4 1305.5 1069.9 C1308.4 1069.4 1311.4 1068.8 1314.3 1068.2 C1317.3 1067.6 1320.3 1066.9 1323.2 1066.2 C1326.2 1065.6 1329.1 1064.8 1332.1 1064.1 C1335.0 1063.3 1338.0 1062.5 1340.9 1061.7 C1343.9 1060.8 1346.8 1060.0 1349.8 1059.1 C1352.7 1058.2 1355.6 1057.3 1358.6 1056.4 C1361.5 1055.5 1364.5 1054.6 1367.4 1053.7 C1370.4 1052.8 1373.3 1051.9 1376.2 1050.9 C1379.2 1050.0 1382.1 1049.1 1385.0 1048.2 C1388.0 1047.4 1390.9 1046.5 1393.8 1045.6 C1396.8 1044.8 1399.7 1043.9 1402.6 1043.2 C1405.6 1042.4 1408.5 1041.6 1411.4 1040.9 C1414.4 1040.1 1417.3 1039.5 1420.2 1038.8 C1423.2 1038.2 1426.1 1037.6 1429.0 1037.1 C1431.9 1036.6 1434.9 1036.1 1437.8 1035.7 C1440.7 1035.3 1443.6 1034.9 1446.6 1034.7 C1449.5 1034.4 1452.4 1034.2 1455.3 1034.1 C1458.3 1034.0 1461.2 1034.0 1464.1 1034.0 C1467.0 1034.1 1469.9 1034.2 1472.9 1034.5 C1475.8 1034.7 1478.7 1035.0 1481.6 1035.3 C1484.6 1035.7 1487.5 1036.1 1490.4 1036.6 C1493.3 1037.1 1496.2 1037.7 1499.2 1038.3 C1502.1 1038.9 1505.0 1039.5 1507.9 1040.2 C1510.9 1040.9 1513.8 1041.7 1516.7 1042.5 C1519.6 1043.2 1522.5 1044.1 1525.5 1044.9 C1528.4 1045.8 1531.3 1046.6 1534.2 1047.5 C1537.2 1048.4 1540.1 1049.3 1543.0 1050.3 C1545.9 1051.2 1548.9 1052.1 1551.8 1053.1 C1554.7 1054.0 1557.6 1054.9 1560.6 1055.9 C1563.5 1056.8 1566.4 1057.8 1569.4 1058.7 C1572.3 1059.6 1575.2 1060.5 1578.1 1061.4 C1581.1 1062.3 1584.0 1063.2 1586.9 1064.0 C1589.9 1064.9 1592.8 1065.7 1595.7 1066.5 C1598.7 1067.3 1601.6 1068.1 1604.5 1068.9 C1607.5 1069.7 1610.4 1070.4 1613.3 1071.2 C1616.3 1071.9 1619.2 1072.6 1622.2 1073.3 C1625.1 1074.0 1628.0 1074.7 1631.0 1075.3 C1633.9 1076.0 1636.9 1076.7 1639.8 1077.3 C1642.8 1077.9 1645.7 1078.5 1648.6 1079.1 C1651.6 1079.7 1654.5 1080.3 1657.5 1080.8 C1660.4 1081.4 1663.4 1081.9 1666.3 1082.5 C1669.3 1083.0 1672.2 1083.5 1675.2 1084.0 C1678.2 1084.5 1681.1 1085.0 1684.1 1085.5 C1687.0 1085.9 1690.0 1086.4 1693.0 1086.8 C1695.9 1087.3 1698.9 1087.7 1701.8 1088.1 C1704.8 1088.5 1707.8 1088.9 1710.7 1089.3 C1713.7 1089.7 1716.7 1090.0 1719.7 1090.4 C1722.6 1090.7 1725.6 1091.1 1728.6 1091.4 C1731.5 1091.7 1734.5 1092.1 1737.5 1092.4 C1740.5 1092.7 1743.5 1093.0 1746.4 1093.3 C1749.4 1093.5 1752.4 1093.8 1755.4 1094.1 C1758.4 1094.3 1761.4 1094.6 1764.4 1094.8 C1767.3 1095.1 1770.3 1095.3 1773.3 1095.5 C1776.3 1095.8 1779.3 1096.0 1782.3 1096.2 C1785.3 1096.4 1788.3 1096.6 1791.3 1096.7 C1794.3 1096.9 1797.3 1097.1 1800.3 1097.3 C1803.4 1097.4 1806.4 1097.6 1809.4 1097.8 C1812.4 1097.9 1815.4 1098.0 1818.4 1098.2 C1821.4 1098.3 1824.4 1098.4 1827.5 1098.6 C1830.5 1098.7 1833.5 1098.8 1836.5 1098.9 C1839.6 1099.0 1842.6 1099.1 1845.6 1099.2 C1848.6 1099.3 1851.7 1099.4 1854.7 1099.5 C1857.7 1099.6 1860.7 1099.6 1863.8 1099.7 C1866.8 1099.8 1869.8 1099.9 1872.8 1099.9 C1875.9 1100.0 1878.9 1100.1 1881.9 1100.1 C1885.0 1100.2 1888.0 1100.2 1891.0 1100.3 C1894.1 1100.3 1897.1 1100.4 1900.1 1100.4 C1903.2 1100.4 1906.2 1100.5 1909.2 1100.5 C1912.3 1100.6 1915.3 1100.6 1918.3 1100.6 C1921.3 1100.7 1924.4 1100.7 1927.4 1100.7 C1930.4 1100.8 1933.5 1100.8 1936.5 1100.8 C1939.5 1100.8 1942.5 1100.9 1945.6 1100.9 C1948.6 1100.9 1951.6 1100.9 1954.6 1101.0 C1957.6 1101.0 1960.7 1101.0 1963.7 1101.0 C1966.7 1101.1 1969.7 1101.1 1972.7 1101.1 C1975.7 1101.1 1978.8 1101.2 1981.8 1101.2 C1984.8 1101.2 1987.8 1101.3 1990.8 1101.3 C1993.8 1101.3 1996.8 1101.4 1999.8 1101.4 C2002.8 1101.4 2005.8 1101.5 2008.8 1101.5 C2011.8 1101.6 2014.8 1101.6 2017.8 1101.7 C2020.8 1101.7 2025.2 1101.8 2026.7 1101.8" stroke="#7030A0"/>
<path d="M254.9 -300.0 L257.6 857.0 C258.3 868.3 260.5 901.5 262.0 925.0 C263.5 948.5 266.0 985.8 266.8 998.0 L271.4 845.0 C271.5 846.6 272.0 851.5 272.2 854.8 C272.5 858.1 272.7 861.4 272.9 864.7 C273.1 867.9 273.3 871.2 273.5 874.5 C273.6 877.8 273.8 881.1 273.9 884.4 C274.0 887.6 274.2 890.9 274.3 894.2 C274.4 897.5 274.5 900.8 274.6 904.1 C274.7 907.4 274.8 910.7 274.8 914.0 C274.9 917.3 275.0 920.5 275.1 923.8 C275.2 927.1 275.3 930.4 275.4 933.7 C275.5 937.0 275.6 940.3 275.7 943.6 C275.8 946.9 275.9 950.1 276.0 953.4 C276.2 956.7 276.3 960.0 276.5 963.3 C276.7 966.6 276.8 969.8 277.1 973.1 C277.3 976.4 277.5 979.7 277.7 983.0 C278.0 986.2 278.3 989.5 278.6 992.8 C278.9 996.0 279.2 999.3 279.6 1002.6 C280.0 1005.8 280.6 1010.7 280.9 1012.3 C281.3 1010.9 282.9 1006.4 283.7 1003.5 C284.6 1000.5 285.2 997.5 285.8 994.5 C286.4 991.6 286.9 988.6 287.3 985.6 C287.7 982.6 288.0 979.7 288.3 976.7 C288.5 973.7 288.7 970.7 288.9 967.7 C289.1 964.7 289.2 961.7 289.4 958.7 C289.5 955.7 289.7 952.7 289.8 949.7 C290.0 946.7 290.2 943.7 290.3 940.7 C290.5 937.7 290.7 934.7 291.0 931.7 C291.2 928.7 291.4 925.7 291.7 922.7 C291.9 919.7 292.2 916.7 292.5 913.6 C292.7 910.6 293.0 907.6 293.3 904.6 C293.6 901.6 293.9 898.5 294.2 895.5 C294.5 892.5 294.8 889.5 295.2 886.5 C295.5 883.4 295.8 880.4 296.1 877.4 C296.5 874.4 296.8 871.3 297.1 868.3 C297.5 865.3 297.8 862.3 298.2 859.2 C298.5 856.2 298.8 853.2 299.2 850.1 C299.5 847.1 299.9 844.1 300.2 841.1 C300.5 838.0 300.9 835.0 301.2 832.0 C301.5 829.0 301.9 825.9 302.2 822.9 C302.6 819.9 302.9 816.8 303.2 813.8 C303.6 810.8 303.9 807.8 304.3 804.7 C304.6 801.7 305.0 798.7 305.4 795.7 C305.7 792.6 306.1 789.6 306.5 786.6 C306.9 783.6 307.2 780.6 307.6 777.5 C308.0 774.5 308.4 771.5 308.9 768.5 C309.3 765.5 309.7 762.5 310.1 759.5 C310.6 756.4 311.0 753.4 311.5 750.4 C311.9 747.4 312.4 744.4 312.9 741.4 C313.4 738.4 313.9 735.4 314.4 732.4 C314.9 729.4 315.5 726.4 316.0 723.4 C316.6 720.4 317.1 717.4 317.7 714.4 C318.3 711.4 318.9 708.5 319.5 705.5 C320.2 702.5 320.8 699.5 321.5 696.5 C322.1 693.6 322.8 690.6 323.6 687.6 C324.3 684.7 325.1 681.7 326.0 678.8 C326.9 675.9 327.9 673.0 329.0 670.1 C330.1 667.2 331.2 664.3 332.6 661.5 C333.9 658.7 335.4 655.8 337.0 653.1 C338.6 650.4 340.4 647.6 342.3 645.4 C344.1 643.1 346.1 641.0 348.2 639.6 C350.3 638.3 352.5 637.3 354.7 637.2 C357.0 637.1 359.3 637.8 361.6 638.9 C363.9 640.0 366.3 641.8 368.6 643.7 C370.9 645.7 373.2 648.1 375.5 650.5 C377.7 652.9 380.0 655.5 382.1 658.0 C384.2 660.6 386.2 663.2 388.1 665.8 C390.1 668.4 391.8 671.1 393.5 673.8 C395.2 676.4 396.7 679.1 398.1 681.8 C399.5 684.5 400.8 687.2 402.1 689.9 C403.4 692.6 404.6 695.3 405.8 698.0 C407.0 700.7 408.1 703.4 409.3 706.2 C410.5 708.9 411.7 711.6 412.8 714.4 C414.0 717.1 415.2 719.8 416.4 722.6 C417.6 725.3 418.7 728.1 419.9 730.8 C421.0 733.6 422.2 736.3 423.3 739.1 C424.4 741.8 425.6 744.6 426.7 747.3 C427.9 750.1 429.0 752.9 430.2 755.6 C431.3 758.4 432.5 761.1 433.7 763.9 C434.9 766.6 436.1 769.4 437.4 772.1 C438.6 774.8 439.9 777.6 441.2 780.3 C442.5 783.1 443.9 785.8 445.3 788.5 C446.7 791.2 448.1 793.9 449.6 796.7 C451.1 799.4 452.6 802.1 454.1 804.8 C455.6 807.5 457.2 810.2 458.8 812.9 C460.4 815.6 462.0 818.3 463.6 820.9 C465.2 823.6 466.8 826.3 468.5 829.0 C470.1 831.6 471.7 834.3 473.4 837.0 C475.0 839.6 476.6 842.3 478.3 844.9 C479.9 847.6 481.5 850.2 483.1 852.9 C484.7 855.5 486.3 858.2 487.8 860.8 C489.4 863.5 490.9 866.1 492.5 868.7 C494.0 871.4 495.4 874.0 496.9 876.6 C498.4 879.2 499.8 881.9 501.3 884.5 C502.7 887.1 504.1 889.7 505.6 892.3 C507.0 894.9 508.4 897.5 509.8 900.1 C511.2 902.7 512.6 905.3 514.1 907.9 C515.5 910.5 516.9 913.1 518.3 915.7 C519.8 918.3 521.2 920.9 522.6 923.5 C524.1 926.1 525.6 928.7 527.0 931.3 C528.5 933.9 530.0 936.5 531.6 939.0 C533.1 941.6 534.7 944.2 536.2 946.8 C537.8 949.4 539.4 951.9 541.1 954.5 C542.7 957.1 544.4 959.6 546.1 962.2 C547.8 964.7 549.5 967.3 551.2 969.8 C553.0 972.3 554.8 974.8 556.6 977.3 C558.4 979.8 560.2 982.2 562.1 984.7 C564.0 987.1 565.9 989.5 567.8 991.9 C569.8 994.3 571.7 996.7 573.7 999.0 C575.7 1001.4 577.7 1003.7 579.8 1005.9 C581.9 1008.2 584.0 1010.4 586.1 1012.6 C588.2 1014.8 590.4 1017.0 592.6 1019.1 C594.8 1021.2 597.0 1023.2 599.3 1025.3 C601.5 1027.3 603.8 1029.3 606.2 1031.2 C608.5 1033.1 610.9 1035.0 613.3 1036.8 C615.7 1038.6 618.1 1040.4 620.6 1042.1 C623.0 1043.8 625.6 1045.4 628.1 1047.0 C630.7 1048.6 633.2 1050.1 635.9 1051.5 C638.5 1053.0 641.1 1054.4 643.8 1055.7 C646.5 1057.0 649.3 1058.3 652.1 1059.4 C654.8 1060.6 657.6 1061.7 660.5 1062.7 C663.4 1063.7 666.3 1064.7 669.2 1065.5 C672.1 1066.4 675.1 1067.2 678.1 1067.9 C681.1 1068.5 684.2 1069.2 687.3 1069.7 C690.4 1070.2 695.1 1070.7 696.7 1070.9 L703.8 1065.6 C705.3 1066.2 709.6 1068.1 712.5 1069.3 C715.4 1070.5 718.3 1071.7 721.3 1072.9 C724.2 1074.1 727.1 1075.2 730.1 1076.3 C733.0 1077.5 735.9 1078.5 738.9 1079.6 C741.9 1080.7 744.8 1081.7 747.8 1082.8 C750.8 1083.8 753.8 1084.8 756.8 1085.8 C759.7 1086.7 762.7 1087.7 765.7 1088.6 C768.8 1089.5 771.8 1090.4 774.8 1091.3 C777.8 1092.2 780.8 1093.0 783.9 1093.9 C786.9 1094.7 789.9 1095.5 793.0 1096.3 C796.0 1097.0 799.1 1097.8 802.2 1098.5 C805.2 1099.3 808.3 1100.0 811.3 1100.6 C814.4 1101.3 817.5 1102.0 820.6 1102.6 C823.7 1103.2 826.8 1103.8 829.8 1104.4 C832.9 1105.0 836.0 1105.6 839.1 1106.1 C842.2 1106.6 845.4 1107.1 848.5 1107.6 C851.6 1108.1 854.7 1108.6 857.8 1109.0 C860.9 1109.4 864.1 1109.8 867.2 1110.2 C870.3 1110.6 873.5 1111.0 876.6 1111.3 C879.7 1111.6 882.9 1111.9 886.0 1112.2 C889.2 1112.5 892.3 1112.8 895.5 1113.0 C898.6 1113.2 903.3 1113.5 904.9 1113.6 L912.0 1109.2 C913.6 1109.3 918.1 1109.6 921.2 1109.7 C924.2 1109.9 927.3 1110.1 930.3 1110.2 C933.3 1110.4 936.4 1110.5 939.4 1110.7 C942.5 1110.8 945.5 1111.0 948.5 1111.1 C951.6 1111.3 954.6 1111.4 957.7 1111.5 C960.7 1111.6 963.7 1111.8 966.8 1111.9 C969.8 1112.0 972.8 1112.1 975.9 1112.2 C978.9 1112.3 982.0 1112.4 985.0 1112.5 C988.0 1112.6 991.1 1112.6 994.1 1112.7 C997.1 1112.8 1000.2 1112.9 1003.2 1112.9 C1006.2 1113.0 1009.3 1113.0 1012.3 1113.1 C1015.3 1113.1 1018.4 1113.2 1021.4 1113.2 C1024.4 1113.3 1027.5 1113.3 1030.5 1113.3 C1033.5 1113.3 1036.6 1113.4 1039.6 1113.4 C1042.6 1113.4 1045.7 1113.4 1048.7 1113.4 C1051.7 1113.4 1054.8 1113.4 1057.8 1113.3 C1060.8 1113.3 1063.8 1113.3 1066.9 1113.3 C1069.9 1113.3 1072.9 1113.2 1076.0 1113.2 C1079.0 1113.2 1082.0 1113.2 1085.1 1113.2 C1088.1 1113.1 1091.1 1113.1 1094.1 1113.1 C1097.2 1113.1 1100.2 1113.1 1103.2 1113.1 C1106.2 1113.0 1109.3 1113.0 1112.3 1113.0 C1115.3 1113.0 1118.3 1113.1 1121.4 1113.1 C1124.4 1113.1 1127.4 1113.1 1130.4 1113.2 C1133.5 1113.2 1136.5 1113.2 1139.5 1113.3 C1142.5 1113.4 1145.6 1113.4 1148.6 1113.5 C1151.6 1113.6 1154.6 1113.7 1157.7 1113.8 C1160.7 1113.9 1163.7 1113.9 1166.7 1114.0 C1169.8 1114.1 1172.8 1114.2 1175.8 1114.3 C1178.8 1114.4 1181.8 1114.5 1184.9 1114.6 C1187.9 1114.6 1190.9 1114.7 1193.9 1114.8 C1196.9 1114.8 1200.0 1114.9 1203.0 1114.9 C1206.0 1115.0 1209.0 1115.0 1212.0 1115.0 C1215.1 1115.0 1218.1 1115.0 1221.1 1115.0 C1224.1 1114.9 1227.1 1114.9 1230.2 1114.8 C1233.2 1114.7 1236.2 1114.7 1239.2 1114.5 C1242.2 1114.4 1245.3 1114.3 1248.3 1114.1 C1251.3 1113.9 1254.3 1113.7 1257.3 1113.5 C1260.3 1113.2 1263.4 1113.0 1266.4 1112.7 C1269.4 1112.4 1272.4 1112.1 1275.4 1111.8 C1278.4 1111.4 1281.5 1111.1 1284.5 1110.7 C1287.5 1110.3 1290.5 1109.9 1293.5 1109.5 C1296.5 1109.1 1299.6 1108.6 1302.6 1108.2 C1305.6 1107.7 1308.6 1107.3 1311.6 1106.8 C1314.6 1106.3 1317.7 1105.8 1320.7 1105.3 C1323.7 1104.8 1326.7 1104.3 1329.7 1103.7 C1332.7 1103.2 1335.7 1102.7 1338.8 1102.1 C1341.8 1101.6 1344.8 1101.0 1347.8 1100.5 C1350.8 1099.9 1353.8 1099.3 1356.8 1098.7 C1359.9 1098.2 1362.9 1097.6 1365.9 1097.0 C1368.9 1096.4 1371.9 1095.8 1374.9 1095.3 C1377.9 1094.7 1380.9 1094.1 1384.0 1093.5 C1387.0 1092.9 1390.0 1092.3 1393.0 1091.8 C1396.0 1091.2 1399.0 1090.6 1402.0 1090.0 C1405.1 1089.5 1408.1 1088.9 1411.1 1088.4 C1414.1 1087.8 1417.1 1087.3 1420.1 1086.7 C1423.1 1086.2 1426.1 1085.7 1429.2 1085.2 C1432.2 1084.7 1435.2 1084.2 1438.2 1083.7 C1441.2 1083.2 1444.2 1082.7 1447.2 1082.3 C1450.2 1081.8 1453.3 1081.4 1456.3 1080.9 C1459.3 1080.5 1462.3 1080.1 1465.3 1079.7 C1468.3 1079.3 1471.3 1079.0 1474.3 1078.6 C1477.3 1078.3 1480.4 1078.0 1483.4 1077.6 C1486.4 1077.3 1489.4 1077.0 1492.4 1076.7 C1495.4 1076.5 1498.4 1076.2 1501.4 1075.9 C1504.5 1075.7 1507.5 1075.5 1510.5 1075.2 C1513.5 1075.0 1516.5 1074.8 1519.5 1074.6 C1522.5 1074.5 1525.5 1074.3 1528.5 1074.1 C1531.6 1074.0 1534.6 1073.8 1537.6 1073.7 C1540.6 1073.6 1543.6 1073.5 1546.6 1073.4 C1549.6 1073.3 1552.6 1073.2 1555.6 1073.1 C1558.7 1073.1 1561.7 1073.0 1564.7 1073.0 C1567.7 1072.9 1570.7 1072.9 1573.7 1072.9 C1576.7 1072.9 1579.7 1072.8 1582.8 1072.9 C1585.8 1072.9 1588.8 1072.9 1591.8 1072.9 C1594.8 1073.0 1597.8 1073.0 1600.8 1073.1 C1603.8 1073.1 1606.9 1073.2 1609.9 1073.3 C1612.9 1073.3 1615.9 1073.4 1618.9 1073.5 C1621.9 1073.6 1624.9 1073.7 1627.9 1073.9 C1631.0 1074.0 1634.0 1074.1 1637.0 1074.3 C1640.0 1074.4 1643.0 1074.6 1646.0 1074.7 C1649.0 1074.9 1652.0 1075.1 1655.1 1075.2 C1658.1 1075.4 1661.1 1075.6 1664.1 1075.8 C1667.1 1076.0 1670.1 1076.2 1673.1 1076.4 C1676.2 1076.6 1679.2 1076.9 1682.2 1077.1 C1685.2 1077.3 1688.2 1077.6 1691.2 1077.8 C1694.2 1078.1 1697.3 1078.3 1700.3 1078.6 C1703.3 1078.8 1706.3 1079.1 1709.3 1079.4 C1712.3 1079.7 1715.3 1079.9 1718.4 1080.2 C1721.4 1080.5 1724.4 1080.8 1727.4 1081.1 C1730.4 1081.4 1733.4 1081.7 1736.5 1082.0 C1739.5 1082.3 1742.5 1082.7 1745.5 1083.0 C1748.5 1083.3 1751.5 1083.6 1754.5 1084.0 C1757.6 1084.3 1760.6 1084.6 1763.6 1085.0 C1766.6 1085.3 1769.6 1085.7 1772.6 1086.0 C1775.7 1086.4 1778.7 1086.7 1781.7 1087.1 C1784.7 1087.4 1787.7 1087.8 1790.8 1088.1 C1793.8 1088.5 1796.8 1088.9 1799.8 1089.2 C1802.8 1089.6 1805.8 1090.0 1808.9 1090.3 C1811.9 1090.7 1814.9 1091.1 1817.9 1091.4 C1820.9 1091.8 1824.0 1092.2 1827.0 1092.6 C1830.0 1093.0 1833.0 1093.3 1836.0 1093.7 C1839.1 1094.1 1842.1 1094.5 1845.1 1094.9 C1848.1 1095.2 1851.2 1095.6 1854.2 1096.0 C1857.2 1096.4 1860.2 1096.8 1863.2 1097.1 C1866.3 1097.5 1869.3 1097.9 1872.3 1098.3 C1875.3 1098.7 1878.4 1099.0 1881.4 1099.4 C1884.4 1099.8 1887.4 1100.2 1890.4 1100.5 C1893.5 1100.9 1896.5 1101.3 1899.5 1101.7 C1902.5 1102.0 1905.6 1102.4 1908.6 1102.8 C1911.6 1103.1 1914.6 1103.5 1917.7 1103.9 C1920.7 1104.2 1923.7 1104.6 1926.7 1104.9 C1929.8 1105.3 1932.8 1105.6 1935.8 1106.0 C1938.9 1106.3 1941.9 1106.7 1944.9 1107.0 C1947.9 1107.4 1951.0 1107.7 1954.0 1108.0 C1957.0 1108.4 1960.0 1108.7 1963.1 1109.0 C1966.1 1109.3 1969.1 1109.7 1972.2 1110.0 C1975.2 1110.3 1978.2 1110.6 1981.3 1110.9 C1984.3 1111.2 1987.3 1111.5 1990.3 1111.8 C1993.4 1112.1 1996.4 1112.3 1999.4 1112.6 C2002.5 1112.9 2005.5 1113.2 2008.5 1113.4 C2011.6 1113.7 2014.6 1113.9 2017.6 1114.2 C2020.7 1114.4 2025.2 1114.8 2026.7 1114.9" stroke="#E36C0A"/>
<path d="M254.4 846.0 L257.0 851.5 L259.5 844.5 L261.2 851.0 L263.9 751.0 C264.4 775.8 266.3 868.5 267.0 900.0 C267.7 931.5 267.3 928.2 267.9 940.0 C268.5 951.8 269.9 965.6 270.3 970.7 L278.0 943.3 C278.3 945.0 279.2 950.3 279.7 953.8 C280.2 957.3 280.6 960.8 281.0 964.3 C281.3 967.8 281.6 971.3 281.9 974.9 C282.2 978.4 282.4 981.9 282.6 985.5 C282.8 989.0 282.9 992.5 283.1 996.1 C283.3 999.6 283.4 1003.1 283.6 1006.7 C283.8 1010.2 283.9 1013.7 284.1 1017.3 C284.3 1020.8 284.5 1024.3 284.8 1027.8 C285.0 1031.4 285.3 1034.9 285.7 1038.4 C286.0 1041.9 286.4 1045.4 286.9 1048.9 C287.4 1052.5 288.3 1057.7 288.6 1059.4 L293.5 1063.0 C293.9 1064.4 295.1 1067.3 295.6 1071.4 C296.1 1075.5 296.2 1085.0 296.3 1087.7 C296.5 1086.2 296.9 1081.7 297.2 1078.7 C297.4 1075.7 297.7 1072.6 298.0 1069.6 C298.2 1066.6 298.5 1063.6 298.8 1060.6 C299.0 1057.6 299.3 1054.6 299.5 1051.5 C299.8 1048.5 300.1 1045.5 300.3 1042.5 C300.6 1039.5 300.8 1036.5 301.1 1033.5 C301.3 1030.5 301.6 1027.5 301.8 1024.5 C302.0 1021.4 302.3 1018.4 302.5 1015.4 C302.8 1012.4 303.0 1009.4 303.2 1006.4 C303.5 1003.4 303.7 1000.4 303.9 997.4 C304.2 994.4 304.4 991.4 304.6 988.4 C304.9 985.3 305.1 982.3 305.3 979.3 C305.5 976.3 305.8 973.3 306.0 970.3 C306.2 967.3 306.4 964.3 306.7 961.3 C306.9 958.3 307.1 955.2 307.3 952.2 C307.5 949.2 307.7 946.2 308.0 943.2 C308.2 940.2 308.4 937.1 308.6 934.1 C308.8 931.1 309.0 928.1 309.2 925.1 C309.4 922.0 309.7 919.0 309.9 916.0 C310.1 913.0 310.3 909.9 310.5 906.9 C310.7 903.9 310.9 900.8 311.1 897.8 C311.3 894.8 311.5 891.8 311.8 888.7 C312.0 885.7 312.2 882.7 312.4 879.6 C312.6 876.6 312.8 873.6 313.1 870.5 C313.3 867.5 313.5 864.5 313.8 861.5 C314.0 858.4 314.3 855.4 314.5 852.4 C314.8 849.4 315.0 846.3 315.3 843.3 C315.5 840.3 315.8 837.3 316.1 834.3 C316.4 831.3 316.7 828.3 317.0 825.3 C317.3 822.3 317.6 819.3 317.9 816.3 C318.2 813.3 318.6 810.3 318.9 807.3 C319.2 804.3 319.6 801.4 320.0 798.4 C320.3 795.4 320.7 792.5 321.1 789.5 C321.5 786.6 321.9 783.6 322.4 780.7 C322.8 777.7 323.2 774.8 323.7 771.9 C324.2 768.9 324.6 766.0 325.1 763.1 C325.6 760.2 326.1 757.2 326.7 754.3 C327.2 751.4 327.7 748.4 328.3 745.5 C328.9 742.5 329.5 739.6 330.1 736.6 C330.7 733.6 331.3 730.6 332.0 727.6 C332.6 724.6 333.3 721.6 334.0 718.5 C334.7 715.5 335.4 712.4 336.2 709.3 C336.9 706.2 337.7 703.1 338.5 699.9 C339.3 696.8 340.1 693.5 341.0 690.4 C341.9 687.3 342.8 684.2 343.9 681.3 C344.9 678.4 346.1 675.5 347.4 673.0 C348.7 670.5 350.1 668.2 351.8 666.3 C353.4 664.3 355.3 662.7 357.3 661.6 C359.4 660.4 361.8 659.7 364.3 659.5 C366.8 659.3 369.7 659.6 372.4 660.3 C375.1 660.9 378.1 662.1 380.7 663.4 C383.3 664.7 385.9 666.4 388.1 668.2 C390.3 670.0 392.2 672.1 394.0 674.3 C395.8 676.5 397.3 678.9 398.8 681.4 C400.2 683.8 401.5 686.5 402.8 689.2 C404.1 692.0 405.2 694.8 406.4 697.7 C407.6 700.6 408.8 703.6 410.0 706.6 C411.2 709.5 412.3 712.6 413.6 715.6 C414.8 718.5 416.0 721.6 417.3 724.5 C418.6 727.4 419.9 730.3 421.3 733.2 C422.6 736.0 424.0 738.8 425.4 741.6 C426.8 744.3 428.3 747.0 429.7 749.7 C431.2 752.4 432.7 755.1 434.2 757.7 C435.7 760.3 437.2 762.9 438.7 765.5 C440.3 768.1 441.8 770.6 443.4 773.2 C445.0 775.7 446.5 778.3 448.1 780.8 C449.7 783.3 451.3 785.8 452.8 788.3 C454.4 790.8 456.0 793.4 457.6 795.9 C459.2 798.4 460.7 800.9 462.3 803.4 C463.9 806.0 465.4 808.5 467.0 811.0 C468.5 813.6 470.1 816.1 471.6 818.7 C473.2 821.3 474.7 823.8 476.2 826.4 C477.7 829.0 479.3 831.6 480.8 834.2 C482.3 836.8 483.8 839.3 485.3 841.9 C486.9 844.5 488.4 847.1 489.9 849.7 C491.4 852.3 492.9 855.0 494.4 857.6 C495.9 860.2 497.5 862.8 499.0 865.4 C500.5 868.0 502.0 870.6 503.5 873.3 C505.0 875.9 506.6 878.5 508.1 881.1 C509.6 883.7 511.2 886.3 512.7 889.0 C514.2 891.6 515.8 894.2 517.3 896.8 C518.9 899.4 520.4 902.0 522.0 904.6 C523.5 907.2 525.1 909.9 526.7 912.5 C528.2 915.1 529.8 917.7 531.4 920.2 C533.0 922.8 534.6 925.4 536.2 928.0 C537.8 930.6 539.5 933.2 541.1 935.7 C542.7 938.3 544.4 940.9 546.0 943.4 C547.7 946.0 549.4 948.5 551.1 951.1 C552.8 953.6 554.5 956.1 556.2 958.7 C557.9 961.2 559.6 963.7 561.4 966.2 C563.1 968.7 564.9 971.2 566.7 973.7 C568.5 976.1 570.3 978.6 572.1 981.0 C574.0 983.4 575.9 985.8 577.8 988.1 C579.7 990.5 581.6 992.8 583.6 995.0 C585.6 997.3 587.7 999.5 589.7 1001.6 C591.8 1003.8 594.0 1005.9 596.2 1007.9 C598.4 1009.9 600.6 1011.9 602.9 1013.7 C605.2 1015.6 607.6 1017.4 610.0 1019.1 C612.5 1020.8 615.0 1022.4 617.6 1023.9 C620.2 1025.5 622.8 1026.9 625.5 1028.2 C628.2 1029.6 631.0 1030.8 633.9 1032.0 C636.7 1033.2 639.6 1034.2 642.4 1035.2 C645.3 1036.3 648.3 1037.2 651.2 1038.1 C654.2 1039.0 657.1 1039.8 660.1 1040.5 C663.1 1041.3 666.0 1042.0 669.0 1042.6 C671.9 1043.2 674.9 1043.8 677.8 1044.4 C680.7 1045.0 683.6 1045.5 686.5 1046.1 C689.4 1046.7 692.3 1047.3 695.1 1048.0 C698.0 1048.6 700.8 1049.3 703.7 1050.1 C706.5 1051.0 709.4 1051.9 712.2 1052.9 C715.1 1053.9 717.9 1055.0 720.7 1056.1 C723.5 1057.2 726.3 1058.4 729.2 1059.6 C732.0 1060.8 734.8 1062.1 737.6 1063.3 C740.4 1064.5 743.2 1065.8 746.1 1067.0 C748.9 1068.1 751.7 1069.3 754.5 1070.5 C757.3 1071.6 760.2 1072.7 763.0 1073.8 C765.8 1074.9 768.7 1076.0 771.5 1077.0 C774.3 1078.0 777.2 1079.0 780.1 1079.9 C782.9 1080.9 785.8 1081.8 788.7 1082.6 C791.6 1083.5 794.5 1084.3 797.4 1085.1 C800.3 1085.8 803.2 1086.5 806.1 1087.2 C809.1 1087.9 812.0 1088.5 815.0 1089.1 C817.9 1089.7 820.9 1090.2 823.9 1090.7 C826.8 1091.3 829.8 1091.7 832.8 1092.2 C835.8 1092.7 838.8 1093.1 841.8 1093.5 C844.8 1093.9 847.8 1094.3 850.8 1094.7 C853.8 1095.0 856.8 1095.4 859.8 1095.7 C862.8 1096.1 865.8 1096.4 868.9 1096.8 C871.9 1097.1 874.9 1097.4 877.9 1097.7 C880.9 1098.1 883.9 1098.4 886.9 1098.7 C889.9 1099.1 892.9 1099.4 895.9 1099.7 C898.9 1100.1 903.4 1100.7 904.9 1100.8 L912.0 1098.5 C913.6 1098.6 918.1 1098.7 921.1 1098.7 C924.1 1098.8 927.2 1098.9 930.2 1099.0 C933.2 1099.1 936.3 1099.1 939.3 1099.2 C942.3 1099.3 945.3 1099.4 948.4 1099.5 C951.4 1099.5 954.4 1099.6 957.4 1099.7 C960.5 1099.8 963.5 1099.9 966.5 1099.9 C969.6 1100.0 972.6 1100.1 975.6 1100.2 C978.6 1100.3 981.7 1100.4 984.7 1100.4 C987.7 1100.5 990.7 1100.6 993.8 1100.7 C996.8 1100.8 999.8 1100.9 1002.8 1100.9 C1005.9 1101.0 1008.9 1101.1 1011.9 1101.2 C1014.9 1101.3 1018.0 1101.4 1021.0 1101.5 C1024.0 1101.5 1027.0 1101.6 1030.1 1101.7 C1033.1 1101.8 1036.1 1101.9 1039.1 1101.9 C1042.2 1102.0 1045.2 1102.1 1048.2 1102.2 C1051.2 1102.3 1054.3 1102.4 1057.3 1102.4 C1060.3 1102.5 1063.3 1102.6 1066.4 1102.7 C1069.4 1102.7 1072.4 1102.8 1075.4 1102.9 C1078.4 1103.0 1081.5 1103.1 1084.5 1103.1 C1087.5 1103.2 1090.5 1103.3 1093.6 1103.3 C1096.6 1103.4 1099.6 1103.5 1102.6 1103.6 C1105.6 1103.6 1108.7 1103.7 1111.7 1103.8 C1114.7 1103.8 1117.7 1103.9 1120.8 1104.0 C1123.8 1104.0 1126.8 1104.1 1129.8 1104.1 C1132.8 1104.2 1135.9 1104.3 1138.9 1104.3 C1141.9 1104.4 1144.9 1104.4 1148.0 1104.5 C1151.0 1104.5 1154.0 1104.6 1157.0 1104.6 C1160.0 1104.7 1163.1 1104.7 1166.1 1104.8 C1169.1 1104.8 1172.1 1104.8 1175.1 1104.9 C1178.2 1104.9 1181.2 1104.9 1184.2 1105.0 C1187.2 1105.0 1190.3 1105.0 1193.3 1105.0 C1196.3 1105.0 1199.3 1105.0 1202.3 1105.0 C1205.4 1105.0 1208.4 1105.0 1211.4 1105.0 C1214.4 1105.0 1217.4 1105.0 1220.5 1105.0 C1223.5 1104.9 1226.5 1104.9 1229.5 1104.9 C1232.5 1104.8 1235.6 1104.8 1238.6 1104.7 C1241.6 1104.6 1244.6 1104.6 1247.6 1104.5 C1250.7 1104.4 1253.7 1104.3 1256.7 1104.2 C1259.7 1104.1 1262.7 1104.0 1265.7 1103.9 C1268.8 1103.8 1271.8 1103.7 1274.8 1103.5 C1277.8 1103.4 1280.8 1103.2 1283.9 1103.1 C1286.9 1102.9 1289.9 1102.7 1292.9 1102.5 C1295.9 1102.4 1299.0 1102.2 1302.0 1102.0 C1305.0 1101.8 1308.0 1101.6 1311.0 1101.3 C1314.1 1101.1 1317.1 1100.9 1320.1 1100.6 C1323.1 1100.4 1326.1 1100.2 1329.1 1099.9 C1332.2 1099.7 1335.2 1099.4 1338.2 1099.1 C1341.2 1098.9 1344.2 1098.6 1347.3 1098.3 C1350.3 1098.1 1353.3 1097.8 1356.3 1097.5 C1359.3 1097.2 1362.3 1096.9 1365.4 1096.6 C1368.4 1096.3 1371.4 1096.0 1374.4 1095.7 C1377.4 1095.4 1380.5 1095.1 1383.5 1094.8 C1386.5 1094.5 1389.5 1094.2 1392.5 1093.9 C1395.5 1093.6 1398.6 1093.3 1401.6 1093.0 C1404.6 1092.7 1407.6 1092.4 1410.6 1092.1 C1413.7 1091.8 1416.7 1091.5 1419.7 1091.1 C1422.7 1090.8 1425.7 1090.5 1428.7 1090.2 C1431.8 1089.9 1434.8 1089.6 1437.8 1089.3 C1440.8 1089.0 1443.8 1088.7 1446.9 1088.5 C1449.9 1088.2 1452.9 1087.9 1455.9 1087.6 C1458.9 1087.3 1461.9 1087.0 1465.0 1086.8 C1468.0 1086.5 1471.0 1086.2 1474.0 1086.0 C1477.0 1085.7 1480.0 1085.5 1483.1 1085.2 C1486.1 1085.0 1489.1 1084.7 1492.1 1084.5 C1495.1 1084.3 1498.2 1084.0 1501.2 1083.8 C1504.2 1083.6 1507.2 1083.4 1510.2 1083.2 C1513.2 1083.0 1516.3 1082.8 1519.3 1082.7 C1522.3 1082.5 1525.3 1082.3 1528.3 1082.1 C1531.3 1082.0 1534.4 1081.8 1537.4 1081.7 C1540.4 1081.5 1543.4 1081.4 1546.4 1081.3 C1549.5 1081.1 1552.5 1081.0 1555.5 1080.9 C1558.5 1080.8 1561.5 1080.7 1564.5 1080.6 C1567.6 1080.5 1570.6 1080.4 1573.6 1080.3 C1576.6 1080.2 1579.6 1080.1 1582.6 1080.1 C1585.7 1080.0 1588.7 1079.9 1591.7 1079.9 C1594.7 1079.8 1597.7 1079.8 1600.8 1079.7 C1603.8 1079.7 1606.8 1079.7 1609.8 1079.6 C1612.8 1079.6 1615.8 1079.6 1618.9 1079.6 C1621.9 1079.5 1624.9 1079.5 1627.9 1079.5 C1630.9 1079.5 1634.0 1079.5 1637.0 1079.5 C1640.0 1079.6 1643.0 1079.6 1646.0 1079.6 C1649.0 1079.6 1652.1 1079.6 1655.1 1079.7 C1658.1 1079.7 1661.1 1079.7 1664.1 1079.8 C1667.2 1079.8 1670.2 1079.9 1673.2 1079.9 C1676.2 1080.0 1679.2 1080.1 1682.2 1080.1 C1685.3 1080.2 1688.3 1080.3 1691.3 1080.3 C1694.3 1080.4 1697.3 1080.5 1700.4 1080.6 C1703.4 1080.7 1706.4 1080.7 1709.4 1080.8 C1712.4 1080.9 1715.5 1081.0 1718.5 1081.1 C1721.5 1081.2 1724.5 1081.4 1727.5 1081.5 C1730.6 1081.6 1733.6 1081.7 1736.6 1081.8 C1739.6 1081.9 1742.6 1082.1 1745.6 1082.2 C1748.7 1082.3 1751.7 1082.4 1754.7 1082.6 C1757.7 1082.7 1760.7 1082.9 1763.8 1083.0 C1766.8 1083.1 1769.8 1083.3 1772.8 1083.4 C1775.8 1083.6 1778.9 1083.7 1781.9 1083.9 C1784.9 1084.1 1787.9 1084.2 1790.9 1084.4 C1794.0 1084.5 1797.0 1084.7 1800.0 1084.9 C1803.0 1085.0 1806.0 1085.2 1809.1 1085.4 C1812.1 1085.6 1815.1 1085.7 1818.1 1085.9 C1821.2 1086.1 1824.2 1086.3 1827.2 1086.5 C1830.2 1086.6 1833.2 1086.8 1836.3 1087.0 C1839.3 1087.2 1842.3 1087.4 1845.3 1087.6 C1848.3 1087.8 1851.4 1088.0 1854.4 1088.1 C1857.4 1088.3 1860.4 1088.5 1863.5 1088.7 C1866.5 1088.9 1869.5 1089.1 1872.5 1089.3 C1875.5 1089.5 1878.6 1089.7 1881.6 1089.9 C1884.6 1090.1 1887.6 1090.3 1890.7 1090.5 C1893.7 1090.7 1896.7 1091.0 1899.7 1091.2 C1902.7 1091.4 1905.8 1091.6 1908.8 1091.8 C1911.8 1092.0 1914.8 1092.2 1917.9 1092.4 C1920.9 1092.6 1923.9 1092.8 1926.9 1093.0 C1929.9 1093.2 1933.0 1093.4 1936.0 1093.6 C1939.0 1093.9 1942.0 1094.1 1945.1 1094.3 C1948.1 1094.5 1951.1 1094.7 1954.1 1094.9 C1957.2 1095.1 1960.2 1095.3 1963.2 1095.5 C1966.2 1095.7 1969.3 1095.9 1972.3 1096.1 C1975.3 1096.3 1978.3 1096.5 1981.4 1096.7 C1984.4 1096.9 1987.4 1097.1 1990.4 1097.3 C1993.5 1097.5 1996.5 1097.7 1999.5 1097.9 C2002.5 1098.1 2005.6 1098.3 2008.6 1098.5 C2011.6 1098.7 2014.6 1098.9 2017.7 1099.1 C2020.7 1099.3 2025.2 1099.6 2026.7 1099.7" stroke="#000"/>
<ellipse cx="258.2" cy="847.6" rx="6.8" ry="6.3" fill="#000" stroke="none"/>
<path d="M253.5 1008.0 L256.8 928.5 C257.4 942.1 259.3 986.6 260.5 1010.0 C261.7 1033.4 263.4 1059.2 264.0 1069.0 L269.0 1040.0 C269.3 1041.4 270.2 1045.5 270.7 1048.6 C271.2 1051.7 271.5 1055.0 271.8 1058.4 C272.1 1061.9 272.3 1065.5 272.6 1069.1 C272.9 1072.7 273.2 1076.5 273.5 1080.1 C273.9 1083.8 274.3 1087.5 275.0 1091.0 C275.6 1094.6 276.3 1098.2 277.2 1101.5 C278.2 1104.8 279.3 1108.0 280.7 1110.9 C282.2 1113.8 283.8 1116.6 285.8 1119.0 C287.9 1121.3 290.1 1123.5 292.9 1125.2 C295.6 1126.8 300.7 1128.4 302.3 1129.0 C302.4 1127.5 302.7 1122.9 302.9 1119.8 C303.0 1116.8 303.2 1113.7 303.4 1110.7 C303.6 1107.6 303.8 1104.6 303.9 1101.5 C304.1 1098.5 304.3 1095.4 304.5 1092.3 C304.7 1089.3 304.8 1086.2 305.0 1083.2 C305.2 1080.1 305.4 1077.1 305.5 1074.0 C305.7 1070.9 305.9 1067.9 306.0 1064.8 C306.2 1061.8 306.4 1058.7 306.6 1055.6 C306.7 1052.6 306.9 1049.5 307.1 1046.5 C307.2 1043.4 307.4 1040.3 307.6 1037.3 C307.8 1034.2 307.9 1031.1 308.1 1028.1 C308.3 1025.0 308.4 1021.9 308.6 1018.9 C308.8 1015.8 308.9 1012.8 309.1 1009.7 C309.3 1006.6 309.4 1003.6 309.6 1000.5 C309.8 997.4 310.0 994.4 310.1 991.3 C310.3 988.2 310.5 985.2 310.6 982.1 C310.8 979.0 311.0 975.9 311.1 972.9 C311.3 969.8 311.5 966.7 311.7 963.7 C311.8 960.6 312.0 957.5 312.2 954.4 C312.4 951.4 312.5 948.3 312.7 945.2 C312.9 942.2 313.1 939.1 313.2 936.0 C313.4 932.9 313.6 929.9 313.8 926.8 C314.0 923.7 314.1 920.6 314.3 917.6 C314.5 914.5 314.7 911.4 314.9 908.3 C315.1 905.3 315.2 902.2 315.4 899.1 C315.6 896.0 315.8 893.0 316.0 889.9 C316.2 886.8 316.4 883.7 316.6 880.6 C316.8 877.6 317.0 874.5 317.2 871.4 C317.4 868.3 317.6 865.2 317.8 862.2 C318.0 859.1 318.2 856.0 318.4 852.9 C318.6 849.8 318.8 846.8 319.0 843.7 C319.2 840.6 319.4 837.5 319.6 834.4 C319.9 831.4 320.1 828.3 320.3 825.2 C320.5 822.1 320.7 819.0 321.0 815.9 C321.2 812.9 321.4 809.8 321.6 806.7 C321.9 803.6 322.1 800.5 322.3 797.4 C322.6 794.3 322.8 791.3 323.1 788.2 C323.3 785.1 323.6 782.0 323.8 778.9 C324.1 775.9 324.3 772.8 324.6 769.7 C324.9 766.6 325.1 763.6 325.4 760.5 C325.7 757.4 326.0 754.4 326.3 751.3 C326.6 748.2 326.9 745.2 327.2 742.1 C327.5 739.1 327.8 736.0 328.1 733.0 C328.5 729.9 328.8 726.9 329.2 723.8 C329.5 720.8 329.9 717.8 330.2 714.7 C330.6 711.7 331.0 708.7 331.3 705.7 C331.7 702.7 332.1 699.6 332.5 696.6 C332.9 693.6 333.4 690.6 333.8 687.7 C334.2 684.7 334.7 681.7 335.1 678.7 C335.6 675.7 336.1 672.8 336.6 669.8 C337.0 666.9 337.5 663.9 338.1 661.0 C338.6 658.0 339.1 655.1 339.7 652.2 C340.3 649.3 341.0 646.4 341.7 643.5 C342.4 640.6 343.1 637.7 343.9 634.8 C344.7 631.9 345.6 629.0 346.6 626.2 C347.5 623.3 348.6 620.5 349.7 617.6 C350.8 614.8 352.1 612.0 353.4 609.2 C354.7 606.3 356.2 603.5 357.7 600.8 C359.3 598.0 362.0 593.8 362.8 592.4 C363.7 592.5 364.9 592.8 368.1 593.0 C371.4 593.1 380.0 593.3 382.4 593.3 C383.2 594.6 385.6 598.6 387.2 601.2 C388.8 603.8 390.3 606.5 391.9 609.1 C393.4 611.8 394.9 614.4 396.4 617.1 C397.9 619.7 399.4 622.4 400.8 625.0 C402.3 627.7 403.8 630.4 405.2 633.0 C406.7 635.7 408.1 638.4 409.5 641.1 C411.0 643.7 412.4 646.4 413.8 649.1 C415.3 651.8 416.7 654.5 418.1 657.2 C419.5 659.8 421.0 662.5 422.4 665.2 C423.9 667.9 425.3 670.6 426.7 673.3 C428.2 676.0 429.6 678.7 431.1 681.4 C432.6 684.1 434.0 686.8 435.5 689.5 C436.9 692.2 438.4 694.9 439.9 697.6 C441.3 700.3 442.8 703.0 444.3 705.7 C445.7 708.4 447.2 711.1 448.7 713.8 C450.2 716.5 451.7 719.3 453.1 722.0 C454.6 724.7 456.1 727.4 457.6 730.1 C459.1 732.8 460.6 735.5 462.0 738.2 C463.5 740.9 465.0 743.6 466.5 746.3 C468.0 749.0 469.5 751.7 471.0 754.3 C472.4 757.0 473.9 759.7 475.4 762.4 C476.9 765.1 478.4 767.8 479.9 770.5 C481.3 773.2 482.8 775.9 484.3 778.5 C485.8 781.2 487.3 783.9 488.7 786.6 C490.2 789.3 491.7 791.9 493.1 794.6 C494.6 797.3 496.1 800.0 497.5 802.7 C499.0 805.4 500.4 808.0 501.9 810.7 C503.3 813.4 504.8 816.1 506.2 818.8 C507.6 821.5 509.1 824.1 510.5 826.8 C511.9 829.5 513.3 832.2 514.7 834.9 C516.1 837.6 517.5 840.3 518.9 843.0 C520.3 845.7 521.7 848.4 523.1 851.1 C524.5 853.8 525.8 856.5 527.2 859.2 C528.5 861.9 529.9 864.6 531.2 867.3 C532.6 870.0 533.9 872.7 535.3 875.4 C536.6 878.1 537.9 880.9 539.3 883.6 C540.6 886.3 542.0 889.0 543.3 891.8 C544.7 894.5 546.1 897.3 547.4 900.0 C548.8 902.7 550.2 905.5 551.6 908.2 C553.0 911.0 554.4 913.8 555.9 916.5 C557.3 919.3 558.8 922.1 560.2 924.8 C561.7 927.6 563.2 930.4 564.7 933.2 C566.3 935.9 567.8 938.7 569.4 941.5 C571.0 944.2 572.6 946.9 574.3 949.7 C575.9 952.4 577.6 955.1 579.3 957.7 C581.0 960.3 582.8 963.0 584.6 965.5 C586.4 968.1 588.2 970.6 590.1 973.1 C592.0 975.5 593.9 978.0 595.9 980.3 C597.9 982.6 599.9 984.9 602.0 987.1 C604.1 989.3 606.2 991.5 608.4 993.5 C610.6 995.5 612.8 997.5 615.1 999.4 C617.4 1001.2 619.8 1003.0 622.2 1004.7 C624.6 1006.4 627.1 1008.0 629.6 1009.5 C632.1 1011.0 634.7 1012.5 637.3 1013.9 C639.9 1015.3 642.5 1016.6 645.2 1017.9 C647.9 1019.1 650.6 1020.4 653.3 1021.5 C656.0 1022.7 658.8 1023.9 661.6 1025.0 C664.4 1026.1 667.2 1027.2 670.0 1028.3 C672.8 1029.4 675.6 1030.5 678.4 1031.6 C681.3 1032.7 684.1 1033.8 687.0 1034.9 C689.8 1036.1 692.6 1037.3 695.5 1038.5 C698.3 1039.7 701.1 1041.0 704.0 1042.2 C706.8 1043.5 709.6 1044.8 712.5 1046.1 C715.3 1047.4 718.2 1048.7 721.0 1050.0 C723.8 1051.3 726.7 1052.7 729.5 1054.0 C732.3 1055.3 735.2 1056.7 738.0 1058.0 C740.8 1059.3 743.7 1060.6 746.5 1061.9 C749.3 1063.2 752.2 1064.5 755.0 1065.8 C757.8 1067.1 760.7 1068.3 763.5 1069.5 C766.3 1070.8 769.2 1071.9 772.0 1073.1 C774.8 1074.3 777.7 1075.4 780.5 1076.6 C783.3 1077.7 786.2 1078.8 789.0 1079.8 C791.8 1080.9 794.7 1081.9 797.5 1082.9 C800.4 1083.9 803.3 1084.9 806.1 1085.9 C809.0 1086.8 811.9 1087.7 814.7 1088.6 C817.6 1089.5 820.5 1090.4 823.4 1091.2 C826.3 1092.0 829.2 1092.8 832.1 1093.6 C835.0 1094.3 838.0 1095.0 840.9 1095.7 C843.8 1096.4 846.8 1097.1 849.8 1097.7 C852.7 1098.3 855.7 1098.9 858.7 1099.4 C861.7 1100.0 864.7 1100.5 867.7 1101.0 C870.8 1101.4 873.8 1101.9 876.9 1102.3 C879.9 1102.7 883.0 1103.0 886.1 1103.3 C889.2 1103.7 892.3 1103.9 895.4 1104.2 C898.6 1104.4 903.3 1104.7 904.9 1104.7 L912.0 1103.0 C913.6 1103.0 918.1 1103.1 921.1 1103.2 C924.1 1103.2 927.2 1103.3 930.2 1103.3 C933.2 1103.4 936.3 1103.5 939.3 1103.6 C942.3 1103.6 945.3 1103.7 948.4 1103.8 C951.4 1103.8 954.4 1103.9 957.4 1104.0 C960.5 1104.1 963.5 1104.1 966.5 1104.2 C969.6 1104.3 972.6 1104.4 975.6 1104.5 C978.6 1104.5 981.7 1104.6 984.7 1104.7 C987.7 1104.8 990.7 1104.9 993.8 1104.9 C996.8 1105.0 999.8 1105.1 1002.8 1105.2 C1005.9 1105.3 1008.9 1105.4 1011.9 1105.4 C1014.9 1105.5 1018.0 1105.6 1021.0 1105.7 C1024.0 1105.8 1027.0 1105.8 1030.1 1105.9 C1033.1 1106.0 1036.1 1106.1 1039.1 1106.2 C1042.2 1106.2 1045.2 1106.3 1048.2 1106.4 C1051.2 1106.5 1054.3 1106.6 1057.3 1106.6 C1060.3 1106.7 1063.3 1106.8 1066.3 1106.9 C1069.4 1106.9 1072.4 1107.0 1075.4 1107.1 C1078.4 1107.1 1081.5 1107.2 1084.5 1107.3 C1087.5 1107.3 1090.5 1107.4 1093.6 1107.5 C1096.6 1107.5 1099.6 1107.6 1102.6 1107.7 C1105.6 1107.7 1108.7 1107.8 1111.7 1107.8 C1114.7 1107.9 1117.7 1107.9 1120.8 1108.0 C1123.8 1108.0 1126.8 1108.1 1129.8 1108.1 C1132.8 1108.2 1135.9 1108.2 1138.9 1108.3 C1141.9 1108.3 1144.9 1108.3 1148.0 1108.4 C1151.0 1108.4 1154.0 1108.4 1157.0 1108.5 C1160.0 1108.5 1163.1 1108.5 1166.1 1108.5 C1169.1 1108.6 1172.1 1108.6 1175.1 1108.6 C1178.2 1108.6 1181.2 1108.6 1184.2 1108.6 C1187.2 1108.6 1190.2 1108.6 1193.3 1108.6 C1196.3 1108.6 1199.3 1108.6 1202.3 1108.6 C1205.3 1108.6 1208.4 1108.5 1211.4 1108.5 C1214.4 1108.5 1217.4 1108.5 1220.4 1108.4 C1223.5 1108.4 1226.5 1108.4 1229.5 1108.3 C1232.5 1108.3 1235.5 1108.2 1238.6 1108.2 C1241.6 1108.1 1244.6 1108.0 1247.6 1108.0 C1250.6 1107.9 1253.7 1107.8 1256.7 1107.7 C1259.7 1107.6 1262.7 1107.6 1265.7 1107.5 C1268.8 1107.4 1271.8 1107.3 1274.8 1107.2 C1277.8 1107.0 1280.8 1106.9 1283.9 1106.8 C1286.9 1106.7 1289.9 1106.5 1292.9 1106.4 C1295.9 1106.3 1299.0 1106.1 1302.0 1106.0 C1305.0 1105.8 1308.0 1105.7 1311.0 1105.5 C1314.0 1105.3 1317.1 1105.1 1320.1 1105.0 C1323.1 1104.8 1326.1 1104.6 1329.1 1104.4 C1332.2 1104.2 1335.2 1104.0 1338.2 1103.8 C1341.2 1103.6 1344.2 1103.4 1347.2 1103.2 C1350.3 1103.0 1353.3 1102.8 1356.3 1102.6 C1359.3 1102.3 1362.3 1102.1 1365.4 1101.9 C1368.4 1101.7 1371.4 1101.4 1374.4 1101.2 C1377.4 1101.0 1380.4 1100.7 1383.5 1100.5 C1386.5 1100.2 1389.5 1100.0 1392.5 1099.8 C1395.5 1099.5 1398.6 1099.3 1401.6 1099.0 C1404.6 1098.8 1407.6 1098.5 1410.6 1098.2 C1413.6 1098.0 1416.7 1097.7 1419.7 1097.5 C1422.7 1097.2 1425.7 1097.0 1428.7 1096.7 C1431.7 1096.4 1434.8 1096.2 1437.8 1095.9 C1440.8 1095.7 1443.8 1095.4 1446.8 1095.1 C1449.9 1094.9 1452.9 1094.6 1455.9 1094.3 C1458.9 1094.1 1461.9 1093.8 1464.9 1093.6 C1468.0 1093.3 1471.0 1093.0 1474.0 1092.8 C1477.0 1092.5 1480.0 1092.3 1483.0 1092.0 C1486.1 1091.8 1489.1 1091.5 1492.1 1091.2 C1495.1 1091.0 1498.1 1090.7 1501.2 1090.5 C1504.2 1090.3 1507.2 1090.0 1510.2 1089.8 C1513.2 1089.5 1516.2 1089.3 1519.3 1089.0 C1522.3 1088.8 1525.3 1088.6 1528.3 1088.4 C1531.3 1088.1 1534.3 1087.9 1537.4 1087.7 C1540.4 1087.5 1543.4 1087.2 1546.4 1087.0 C1549.4 1086.8 1552.5 1086.6 1555.5 1086.4 C1558.5 1086.2 1561.5 1086.0 1564.5 1085.8 C1567.5 1085.6 1570.6 1085.4 1573.6 1085.2 C1576.6 1085.0 1579.6 1084.8 1582.6 1084.6 C1585.6 1084.4 1588.7 1084.2 1591.7 1084.1 C1594.7 1083.9 1597.7 1083.7 1600.7 1083.5 C1603.8 1083.4 1606.8 1083.2 1609.8 1083.0 C1612.8 1082.9 1615.8 1082.7 1618.8 1082.6 C1621.9 1082.4 1624.9 1082.2 1627.9 1082.1 C1630.9 1081.9 1633.9 1081.8 1637.0 1081.7 C1640.0 1081.5 1643.0 1081.4 1646.0 1081.3 C1649.0 1081.1 1652.0 1081.0 1655.1 1080.9 C1658.1 1080.7 1661.1 1080.6 1664.1 1080.5 C1667.1 1080.4 1670.2 1080.3 1673.2 1080.2 C1676.2 1080.1 1679.2 1079.9 1682.2 1079.8 C1685.2 1079.7 1688.3 1079.6 1691.3 1079.6 C1694.3 1079.5 1697.3 1079.4 1700.3 1079.3 C1703.4 1079.2 1706.4 1079.1 1709.4 1079.0 C1712.4 1079.0 1715.4 1078.9 1718.5 1078.8 C1721.5 1078.8 1724.5 1078.7 1727.5 1078.6 C1730.5 1078.6 1733.6 1078.5 1736.6 1078.5 C1739.6 1078.4 1742.6 1078.4 1745.6 1078.3 C1748.6 1078.3 1751.7 1078.3 1754.7 1078.2 C1757.7 1078.2 1760.7 1078.2 1763.7 1078.1 C1766.8 1078.1 1769.8 1078.1 1772.8 1078.1 C1775.8 1078.1 1778.8 1078.1 1781.9 1078.1 C1784.9 1078.0 1787.9 1078.0 1790.9 1078.0 C1793.9 1078.1 1797.0 1078.1 1800.0 1078.1 C1803.0 1078.1 1806.0 1078.1 1809.1 1078.1 C1812.1 1078.1 1815.1 1078.2 1818.1 1078.2 C1821.1 1078.2 1824.2 1078.3 1827.2 1078.3 C1830.2 1078.3 1833.2 1078.4 1836.2 1078.4 C1839.3 1078.5 1842.3 1078.5 1845.3 1078.6 C1848.3 1078.7 1851.3 1078.7 1854.4 1078.8 C1857.4 1078.9 1860.4 1078.9 1863.4 1079.0 C1866.5 1079.1 1869.5 1079.2 1872.5 1079.3 C1875.5 1079.4 1878.5 1079.4 1881.6 1079.5 C1884.6 1079.6 1887.6 1079.7 1890.6 1079.9 C1893.7 1080.0 1896.7 1080.1 1899.7 1080.2 C1902.7 1080.3 1905.8 1080.4 1908.8 1080.6 C1911.8 1080.7 1914.8 1080.8 1917.8 1081.0 C1920.9 1081.1 1923.9 1081.2 1926.9 1081.4 C1929.9 1081.5 1933.0 1081.7 1936.0 1081.9 C1939.0 1082.0 1942.0 1082.2 1945.1 1082.4 C1948.1 1082.5 1951.1 1082.7 1954.1 1082.9 C1957.2 1083.1 1960.2 1083.2 1963.2 1083.4 C1966.2 1083.6 1969.3 1083.8 1972.3 1084.0 C1975.3 1084.2 1978.3 1084.4 1981.4 1084.6 C1984.4 1084.9 1987.4 1085.1 1990.4 1085.3 C1993.5 1085.5 1996.5 1085.7 1999.5 1086.0 C2002.5 1086.2 2005.6 1086.5 2008.6 1086.7 C2011.6 1086.9 2014.6 1087.2 2017.7 1087.4 C2020.7 1087.7 2025.2 1088.1 2026.7 1088.2" stroke="#92D050"/>
<path d="M253.4 895.5 L257.0 857.3 C257.2 858.9 257.8 863.7 258.2 866.9 C258.6 870.0 258.9 873.2 259.2 876.4 C259.5 879.6 259.8 882.7 260.1 885.9 C260.3 889.1 260.5 892.2 260.7 895.4 C260.9 898.6 261.1 901.7 261.3 904.9 C261.4 908.0 261.6 911.2 261.7 914.3 C261.8 917.5 261.9 920.6 262.0 923.8 C262.1 926.9 262.1 930.0 262.2 933.2 C262.3 936.3 262.3 939.4 262.4 942.6 C262.4 945.7 262.4 948.8 262.4 951.9 C262.5 955.1 262.5 958.2 262.5 961.3 C262.5 964.4 262.5 967.5 262.5 970.7 C262.5 973.8 262.6 976.9 262.6 980.0 C262.6 983.1 262.6 986.2 262.6 989.3 C262.7 992.4 262.7 995.5 262.9 998.6 C263.0 1001.7 263.1 1004.8 263.3 1007.9 C263.5 1011.0 263.8 1014.1 264.2 1017.2 C264.5 1020.3 265.0 1023.3 265.5 1026.4 C266.1 1029.5 266.7 1032.6 267.5 1035.7 C268.2 1038.8 269.1 1041.8 270.0 1044.9 C270.9 1048.0 271.9 1051.1 272.7 1054.2 C273.5 1057.2 274.3 1060.3 274.9 1063.4 C275.5 1066.5 275.9 1069.5 276.3 1072.6 C276.6 1075.7 276.9 1078.8 277.1 1081.8 C277.3 1084.9 277.4 1088.0 277.6 1091.1 C277.8 1094.1 277.9 1097.2 278.2 1100.3 C278.5 1103.3 278.8 1106.4 279.4 1109.5 C279.9 1112.5 281.2 1117.1 281.6 1118.7 L286.1 1073.5 L292.8 1134.1 L297.0 1119.4 L306.2 1170.7 C306.4 1169.2 307.1 1164.6 307.5 1161.6 C307.9 1158.5 308.3 1155.5 308.7 1152.4 C309.1 1149.4 309.5 1146.4 309.9 1143.3 C310.3 1140.3 310.6 1137.3 311.0 1134.2 C311.4 1131.2 311.7 1128.2 312.0 1125.2 C312.4 1122.1 312.7 1119.1 313.0 1116.1 C313.3 1113.0 313.6 1110.0 313.9 1107.0 C314.2 1104.0 314.5 1101.0 314.8 1097.9 C315.1 1094.9 315.4 1091.9 315.6 1088.9 C315.9 1085.9 316.2 1082.9 316.4 1079.8 C316.7 1076.8 316.9 1073.8 317.1 1070.8 C317.4 1067.8 317.6 1064.8 317.8 1061.8 C318.0 1058.7 318.2 1055.7 318.5 1052.7 C318.7 1049.7 318.9 1046.7 319.1 1043.7 C319.3 1040.7 319.5 1037.7 319.6 1034.7 C319.8 1031.7 320.0 1028.6 320.2 1025.6 C320.4 1022.6 320.6 1019.6 320.7 1016.6 C320.9 1013.6 321.1 1010.6 321.2 1007.6 C321.4 1004.6 321.6 1001.6 321.7 998.5 C321.9 995.5 322.0 992.5 322.2 989.5 C322.3 986.5 322.5 983.5 322.6 980.5 C322.8 977.5 322.9 974.5 323.1 971.4 C323.2 968.4 323.4 965.4 323.5 962.4 C323.7 959.4 323.8 956.4 324.0 953.4 C324.1 950.3 324.3 947.3 324.4 944.3 C324.6 941.3 324.7 938.3 324.8 935.2 C325.0 932.2 325.1 929.2 325.3 926.2 C325.4 923.2 325.6 920.1 325.8 917.1 C325.9 914.1 326.1 911.1 326.2 908.0 C326.4 905.0 326.6 902.0 326.7 898.9 C326.9 895.9 327.1 892.9 327.2 889.8 C327.4 886.8 327.6 883.8 327.8 880.7 C327.9 877.7 328.1 874.6 328.3 871.6 C328.5 868.5 328.7 865.5 328.9 862.5 C329.1 859.4 329.3 856.4 329.5 853.3 C329.7 850.2 330.0 847.2 330.2 844.1 C330.4 841.1 330.6 838.0 330.9 835.0 C331.1 831.9 331.4 828.8 331.6 825.8 C331.9 822.7 332.1 819.6 332.4 816.5 C332.7 813.5 333.0 810.4 333.2 807.3 C333.5 804.2 333.8 801.1 334.1 798.1 C334.4 795.0 334.7 791.9 335.0 788.8 C335.3 785.7 335.7 782.6 336.0 779.6 C336.3 776.5 336.6 773.4 336.9 770.3 C337.3 767.2 337.6 764.2 337.9 761.1 C338.2 758.0 338.6 754.9 338.9 751.9 C339.2 748.8 339.6 745.8 339.9 742.7 C340.2 739.6 340.6 736.6 340.9 733.5 C341.2 730.5 341.5 727.5 341.9 724.4 C342.2 721.4 342.5 718.4 342.8 715.4 C343.1 712.3 343.4 709.3 343.7 706.3 C344.0 703.3 344.3 700.4 344.6 697.4 C344.9 694.4 345.2 691.4 345.5 688.5 C345.8 685.5 346.1 682.6 346.5 679.7 C346.8 676.7 347.2 673.8 347.6 670.9 C348.0 668.0 348.5 665.1 349.0 662.2 C349.5 659.4 350.1 656.5 350.8 653.7 C351.5 650.8 352.2 648.0 353.1 645.2 C353.9 642.4 354.8 639.6 355.9 636.8 C356.9 634.0 358.1 631.3 359.4 628.5 C360.7 625.8 362.1 623.1 363.7 620.4 C365.3 617.7 367.0 614.9 368.8 612.4 C370.7 609.8 372.7 607.2 374.8 605.2 C376.9 603.2 379.2 601.4 381.4 600.4 C383.7 599.3 386.1 598.7 388.3 599.1 C390.5 599.5 392.6 600.8 394.5 602.6 C396.5 604.4 398.3 607.2 400.0 609.9 C401.7 612.6 403.3 615.9 404.8 618.8 C406.4 621.8 407.8 624.8 409.3 627.6 C410.7 630.5 412.1 633.2 413.6 636.0 C415.0 638.8 416.4 641.5 417.9 644.2 C419.3 647.0 420.8 649.7 422.3 652.4 C423.7 655.1 425.2 657.8 426.7 660.5 C428.2 663.2 429.7 665.9 431.2 668.6 C432.7 671.3 434.3 674.0 435.8 676.6 C437.3 679.3 438.8 681.9 440.4 684.6 C441.9 687.3 443.5 689.9 445.0 692.5 C446.6 695.2 448.1 697.8 449.7 700.4 C451.3 703.1 452.8 705.7 454.4 708.3 C456.0 710.9 457.6 713.5 459.2 716.1 C460.8 718.7 462.3 721.3 463.9 723.9 C465.5 726.5 467.1 729.1 468.7 731.7 C470.3 734.3 471.9 736.9 473.5 739.5 C475.1 742.1 476.7 744.6 478.3 747.2 C479.9 749.8 481.5 752.4 483.1 754.9 C484.7 757.5 486.3 760.1 487.9 762.7 C489.5 765.2 491.1 767.8 492.7 770.4 C494.3 772.9 495.9 775.5 497.5 778.1 C499.1 780.6 500.7 783.2 502.3 785.8 C503.9 788.3 505.5 790.9 507.1 793.5 C508.7 796.0 510.2 798.6 511.8 801.2 C513.4 803.8 514.9 806.3 516.5 808.9 C518.1 811.5 519.6 814.0 521.2 816.6 C522.7 819.2 524.3 821.8 525.8 824.4 C527.3 827.0 528.9 829.5 530.4 832.1 C531.9 834.7 533.4 837.3 534.9 839.9 C536.4 842.5 537.9 845.1 539.4 847.7 C540.9 850.3 542.4 852.9 543.9 855.6 C545.3 858.2 546.8 860.8 548.3 863.4 C549.8 866.0 551.3 868.6 552.8 871.2 C554.3 873.8 555.8 876.5 557.3 879.1 C558.8 881.7 560.3 884.3 561.8 886.9 C563.4 889.5 564.9 892.1 566.5 894.7 C568.1 897.3 569.7 899.9 571.3 902.5 C572.9 905.0 574.5 907.6 576.2 910.2 C577.8 912.8 579.5 915.3 581.2 917.9 C582.9 920.4 584.7 923.0 586.4 925.5 C588.2 928.0 590.0 930.6 591.9 933.1 C593.7 935.6 595.6 938.1 597.5 940.6 C599.5 943.1 601.4 945.6 603.4 948.0 C605.5 950.4 607.5 952.8 609.6 955.1 C611.7 957.4 613.9 959.7 616.1 961.9 C618.3 964.0 620.6 966.1 622.9 968.1 C625.2 970.1 627.6 972.0 630.0 973.7 C632.5 975.4 635.0 977.0 637.6 978.5 C640.1 980.0 642.8 981.3 645.4 982.5 C648.1 983.7 650.8 984.8 653.6 985.8 C656.4 986.8 659.2 987.7 662.0 988.6 C664.9 989.5 667.7 990.3 670.6 991.0 C673.5 991.8 676.4 992.6 679.3 993.3 C682.2 994.1 685.1 994.8 688.0 995.6 C690.9 996.4 693.9 997.2 696.7 998.0 C699.6 998.9 702.5 999.8 705.3 1000.8 C708.2 1001.8 711.0 1002.9 713.8 1004.0 C716.5 1005.2 719.3 1006.4 722.0 1007.7 C724.8 1009.0 727.5 1010.4 730.2 1011.8 C732.9 1013.2 735.6 1014.6 738.3 1016.1 C740.9 1017.6 743.6 1019.2 746.2 1020.7 C748.9 1022.3 751.5 1023.9 754.1 1025.5 C756.8 1027.1 759.4 1028.7 762.0 1030.3 C764.6 1031.9 767.2 1033.5 769.9 1035.2 C772.5 1036.8 775.1 1038.4 777.7 1040.0 C780.4 1041.6 783.0 1043.1 785.6 1044.7 C788.3 1046.2 790.9 1047.8 793.5 1049.3 C796.2 1050.8 798.8 1052.2 801.5 1053.7 C804.2 1055.1 806.9 1056.5 809.5 1057.9 C812.2 1059.3 814.9 1060.6 817.6 1061.9 C820.4 1063.2 823.1 1064.5 825.8 1065.7 C828.6 1066.9 831.3 1068.1 834.1 1069.3 C836.9 1070.4 839.7 1071.5 842.5 1072.5 C845.3 1073.5 848.1 1074.5 851.0 1075.4 C853.8 1076.4 856.7 1077.2 859.6 1078.0 C862.5 1078.9 865.4 1079.6 868.3 1080.3 C871.3 1081.0 874.2 1081.6 877.2 1082.1 C880.2 1082.7 883.2 1083.2 886.3 1083.6 C889.3 1084.0 892.4 1084.4 895.5 1084.6 C898.6 1084.9 903.4 1085.1 904.9 1085.2 L912.0 1083.4 C913.6 1083.5 918.1 1084.0 921.1 1084.3 C924.2 1084.5 927.2 1084.8 930.2 1085.0 C933.3 1085.3 936.3 1085.5 939.3 1085.7 C942.4 1086.0 945.4 1086.2 948.4 1086.4 C951.5 1086.6 954.5 1086.8 957.5 1086.9 C960.6 1087.1 963.6 1087.3 966.6 1087.4 C969.6 1087.6 972.7 1087.7 975.7 1087.9 C978.7 1088.0 981.8 1088.1 984.8 1088.3 C987.8 1088.4 990.9 1088.5 993.9 1088.6 C996.9 1088.7 999.9 1088.8 1003.0 1088.9 C1006.0 1089.0 1009.0 1089.1 1012.1 1089.2 C1015.1 1089.3 1018.1 1089.4 1021.1 1089.4 C1024.2 1089.5 1027.2 1089.6 1030.2 1089.6 C1033.2 1089.7 1036.3 1089.8 1039.3 1089.8 C1042.3 1089.9 1045.4 1089.9 1048.4 1090.0 C1051.4 1090.1 1054.4 1090.1 1057.5 1090.2 C1060.5 1090.2 1063.5 1090.3 1066.5 1090.3 C1069.6 1090.4 1072.6 1090.4 1075.6 1090.5 C1078.6 1090.5 1081.7 1090.6 1084.7 1090.6 C1087.7 1090.7 1090.7 1090.7 1093.8 1090.8 C1096.8 1090.9 1099.8 1090.9 1102.8 1091.0 C1105.9 1091.1 1108.9 1091.1 1111.9 1091.2 C1114.9 1091.3 1118.0 1091.3 1121.0 1091.4 C1124.0 1091.5 1127.0 1091.6 1130.1 1091.6 C1133.1 1091.7 1136.1 1091.8 1139.1 1091.9 C1142.1 1092.0 1145.2 1092.1 1148.2 1092.1 C1151.2 1092.2 1154.2 1092.3 1157.3 1092.4 C1160.3 1092.5 1163.3 1092.6 1166.3 1092.6 C1169.3 1092.7 1172.4 1092.8 1175.4 1092.9 C1178.4 1093.0 1181.4 1093.1 1184.5 1093.2 C1187.5 1093.3 1190.5 1093.3 1193.5 1093.4 C1196.5 1093.5 1199.6 1093.6 1202.6 1093.7 C1205.6 1093.8 1208.6 1093.8 1211.6 1093.9 C1214.7 1094.0 1217.7 1094.1 1220.7 1094.1 C1223.7 1094.2 1226.8 1094.3 1229.8 1094.3 C1232.8 1094.4 1235.8 1094.4 1238.8 1094.5 C1241.9 1094.5 1244.9 1094.5 1247.9 1094.6 C1250.9 1094.6 1253.9 1094.6 1257.0 1094.5 C1260.0 1094.5 1263.0 1094.5 1266.0 1094.4 C1269.0 1094.4 1272.0 1094.3 1275.1 1094.2 C1278.1 1094.1 1281.1 1094.0 1284.1 1093.9 C1287.1 1093.8 1290.2 1093.7 1293.2 1093.5 C1296.2 1093.4 1299.2 1093.2 1302.2 1093.0 C1305.3 1092.8 1308.3 1092.7 1311.3 1092.5 C1314.3 1092.3 1317.3 1092.0 1320.3 1091.8 C1323.4 1091.6 1326.4 1091.3 1329.4 1091.1 C1332.4 1090.8 1335.4 1090.6 1338.5 1090.3 C1341.5 1090.0 1344.5 1089.8 1347.5 1089.5 C1350.5 1089.2 1353.6 1088.9 1356.6 1088.6 C1359.6 1088.3 1362.6 1088.0 1365.6 1087.6 C1368.6 1087.3 1371.7 1087.0 1374.7 1086.7 C1377.7 1086.3 1380.7 1086.0 1383.7 1085.6 C1386.7 1085.3 1389.8 1084.9 1392.8 1084.6 C1395.8 1084.2 1398.8 1083.9 1401.8 1083.5 C1404.9 1083.1 1407.9 1082.8 1410.9 1082.4 C1413.9 1082.0 1416.9 1081.6 1419.9 1081.3 C1423.0 1080.9 1426.0 1080.5 1429.0 1080.1 C1432.0 1079.8 1435.0 1079.4 1438.0 1079.0 C1441.1 1078.6 1444.1 1078.2 1447.1 1077.8 C1450.1 1077.5 1453.1 1077.1 1456.2 1076.7 C1459.2 1076.3 1462.2 1075.9 1465.2 1075.6 C1468.2 1075.2 1471.2 1074.8 1474.3 1074.5 C1477.3 1074.1 1480.3 1073.7 1483.3 1073.4 C1486.3 1073.0 1489.3 1072.6 1492.4 1072.3 C1495.4 1071.9 1498.4 1071.6 1501.4 1071.3 C1504.4 1070.9 1507.5 1070.6 1510.5 1070.2 C1513.5 1069.9 1516.5 1069.6 1519.5 1069.3 C1522.5 1069.0 1525.6 1068.7 1528.6 1068.4 C1531.6 1068.1 1534.6 1067.8 1537.6 1067.5 C1540.6 1067.2 1543.7 1066.9 1546.7 1066.7 C1549.7 1066.4 1552.7 1066.1 1555.7 1065.9 C1558.8 1065.6 1561.8 1065.4 1564.8 1065.1 C1567.8 1064.9 1570.8 1064.7 1573.8 1064.5 C1576.9 1064.2 1579.9 1064.0 1582.9 1063.8 C1585.9 1063.6 1588.9 1063.4 1592.0 1063.2 C1595.0 1063.0 1598.0 1062.8 1601.0 1062.6 C1604.0 1062.4 1607.1 1062.3 1610.1 1062.1 C1613.1 1061.9 1616.1 1061.8 1619.1 1061.6 C1622.1 1061.4 1625.2 1061.3 1628.2 1061.2 C1631.2 1061.0 1634.2 1060.9 1637.2 1060.7 C1640.3 1060.6 1643.3 1060.5 1646.3 1060.4 C1649.3 1060.3 1652.3 1060.1 1655.4 1060.0 C1658.4 1059.9 1661.4 1059.8 1664.4 1059.7 C1667.4 1059.6 1670.5 1059.6 1673.5 1059.5 C1676.5 1059.4 1679.5 1059.3 1682.5 1059.3 C1685.6 1059.2 1688.6 1059.1 1691.6 1059.1 C1694.6 1059.0 1697.6 1059.0 1700.7 1058.9 C1703.7 1058.9 1706.7 1058.8 1709.7 1058.8 C1712.8 1058.7 1715.8 1058.7 1718.8 1058.7 C1721.8 1058.7 1724.8 1058.6 1727.9 1058.6 C1730.9 1058.6 1733.9 1058.6 1736.9 1058.6 C1739.9 1058.6 1743.0 1058.6 1746.0 1058.6 C1749.0 1058.6 1752.0 1058.6 1755.1 1058.6 C1758.1 1058.6 1761.1 1058.7 1764.1 1058.7 C1767.2 1058.7 1770.2 1058.7 1773.2 1058.8 C1776.2 1058.8 1779.2 1058.9 1782.3 1058.9 C1785.3 1058.9 1788.3 1059.0 1791.3 1059.0 C1794.4 1059.1 1797.4 1059.2 1800.4 1059.2 C1803.4 1059.3 1806.5 1059.3 1809.5 1059.4 C1812.5 1059.5 1815.5 1059.6 1818.6 1059.6 C1821.6 1059.7 1824.6 1059.8 1827.6 1059.9 C1830.7 1060.0 1833.7 1060.1 1836.7 1060.1 C1839.7 1060.2 1842.8 1060.3 1845.8 1060.4 C1848.8 1060.5 1851.8 1060.7 1854.9 1060.8 C1857.9 1060.9 1860.9 1061.0 1863.9 1061.1 C1867.0 1061.2 1870.0 1061.3 1873.0 1061.5 C1876.1 1061.6 1879.1 1061.7 1882.1 1061.8 C1885.1 1062.0 1888.2 1062.1 1891.2 1062.2 C1894.2 1062.4 1897.3 1062.5 1900.3 1062.7 C1903.3 1062.8 1906.3 1062.9 1909.4 1063.1 C1912.4 1063.2 1915.4 1063.4 1918.5 1063.5 C1921.5 1063.7 1924.5 1063.9 1927.5 1064.0 C1930.6 1064.2 1933.6 1064.3 1936.6 1064.5 C1939.7 1064.7 1942.7 1064.8 1945.7 1065.0 C1948.8 1065.2 1951.8 1065.4 1954.8 1065.5 C1957.9 1065.7 1960.9 1065.9 1963.9 1066.1 C1967.0 1066.2 1970.0 1066.4 1973.0 1066.6 C1976.1 1066.8 1979.1 1067.0 1982.1 1067.2 C1985.2 1067.4 1988.2 1067.5 1991.2 1067.7 C1994.3 1067.9 1997.3 1068.1 2000.3 1068.3 C2003.4 1068.5 2006.4 1068.7 2009.4 1068.9 C2012.5 1069.1 2015.5 1069.3 2018.5 1069.5 C2021.6 1069.7 2026.1 1070.0 2027.6 1070.1" stroke="#C00000"/>
</g>
<g class="c">
<path d="M1547.5 522L1585.5 526.8M1642 534.2L1678 521.6" stroke="#000" style="stroke-linecap:butt;stroke-width:6.2"/>
<path d="M1602.3 524.2L1605.4 531M1622.6 529.5L1624.2 534.6M1693.8 526L1695.4 531.8" stroke="#000" style="stroke-linecap:butt;stroke-width:2"/>
<path d="M1536.2 306.1 C1537.7 306.0 1542.0 305.7 1544.9 305.6 C1547.8 305.5 1550.8 305.5 1553.8 305.5 C1556.8 305.6 1559.8 305.7 1562.9 305.8 C1565.9 306.0 1569.0 306.2 1572.1 306.4 C1575.2 306.6 1578.3 306.9 1581.4 307.1 C1584.6 307.4 1587.7 307.7 1590.9 307.9 C1594.0 308.2 1597.1 308.4 1600.3 308.7 C1603.4 308.9 1606.6 309.1 1609.7 309.3 C1612.9 309.5 1616.0 309.6 1619.1 309.7 C1622.2 309.8 1625.3 309.8 1628.4 309.8 C1631.4 309.8 1634.5 309.7 1637.5 309.5 C1640.5 309.3 1643.5 309.0 1646.5 308.6 C1649.5 308.3 1652.4 307.8 1655.3 307.2 C1658.1 306.6 1661.0 305.9 1663.8 305.0 C1666.6 304.2 1669.3 303.2 1672.0 302.1 C1674.7 301.0 1677.3 299.8 1680.0 298.5 C1682.6 297.1 1685.1 295.7 1687.7 294.2 C1690.2 292.6 1692.7 291.0 1695.1 289.3 C1697.6 287.6 1700.0 285.8 1702.4 283.9 C1704.7 282.1 1707.1 280.1 1709.4 278.1 C1711.7 276.1 1714.0 274.1 1716.3 272.0 C1718.6 269.9 1720.8 267.7 1723.0 265.5 C1725.2 263.4 1727.4 261.1 1729.6 258.9 C1731.8 256.7 1733.9 254.4 1736.0 252.2 C1738.2 249.9 1740.3 247.6 1742.4 245.3 C1744.5 243.1 1746.6 240.8 1748.7 238.5 C1750.9 236.2 1753.0 234.0 1755.1 231.7 C1757.2 229.5 1759.4 227.2 1761.5 225.0 C1763.7 222.8 1765.9 220.6 1768.1 218.5 C1770.3 216.3 1772.6 214.2 1774.9 212.2 C1777.2 210.1 1779.5 208.0 1781.9 206.1 C1784.3 204.1 1786.7 202.2 1789.2 200.3 C1791.8 198.4 1794.3 196.6 1796.9 194.9 C1799.5 193.2 1802.2 191.5 1804.9 190.0 C1807.6 188.5 1810.4 187.1 1813.1 185.8 C1815.9 184.6 1818.7 183.4 1821.6 182.5 C1824.4 181.5 1827.3 180.7 1830.1 180.1 C1833.0 179.5 1835.9 179.0 1838.7 178.8 C1841.6 178.6 1844.5 178.5 1847.4 178.7 C1850.3 178.8 1853.1 179.2 1856.0 179.7 C1858.8 180.3 1861.7 181.0 1864.5 181.9 C1867.3 182.7 1870.1 183.8 1872.8 185.0 C1875.6 186.1 1878.3 187.5 1881.0 188.9 C1883.6 190.3 1886.3 191.9 1888.8 193.5 C1891.4 195.1 1893.9 196.8 1896.4 198.5 C1898.8 200.3 1901.2 202.1 1903.5 204.0 C1905.9 205.9 1908.2 207.9 1910.4 209.9 C1912.7 211.9 1914.9 213.9 1917.0 216.0 C1919.2 218.1 1921.3 220.3 1923.4 222.4 C1925.5 224.6 1927.6 226.8 1929.7 229.1 C1931.7 231.3 1933.7 233.6 1935.8 235.9 C1937.8 238.2 1939.8 240.5 1941.8 242.9 C1943.8 245.2 1945.8 247.6 1947.8 249.9 C1949.8 252.3 1951.8 254.7 1953.9 257.0 C1955.9 259.4 1957.9 261.8 1959.9 264.1 C1962.0 266.5 1964.0 268.9 1966.1 271.2 C1968.1 273.6 1970.2 275.9 1972.3 278.2 C1974.4 280.5 1976.5 282.8 1978.6 285.1 C1980.7 287.4 1982.9 289.6 1985.0 291.8 C1987.2 294.0 1989.4 296.2 1991.6 298.3 C1993.8 300.5 1996.1 302.6 1998.3 304.6 C2000.6 306.7 2002.9 308.7 2005.2 310.7 C2007.5 312.7 2009.8 314.7 2012.1 316.6 C2014.5 318.5 2016.9 320.4 2019.2 322.3 C2021.6 324.2 2024.0 326.0 2026.5 327.8 C2028.9 329.6 2031.3 331.4 2033.8 333.1 C2036.3 334.8 2038.8 336.5 2041.3 338.2 C2043.8 339.9 2046.3 341.5 2048.8 343.2 C2051.4 344.8 2053.9 346.4 2056.5 347.9 C2059.1 349.5 2061.7 351.0 2064.3 352.5 C2066.9 354.0 2069.5 355.5 2072.1 356.9 C2074.8 358.4 2077.4 359.8 2080.1 361.2 C2082.8 362.6 2085.5 363.9 2088.2 365.3 C2090.9 366.6 2093.6 367.9 2096.3 369.2 C2099.0 370.5 2101.8 371.7 2104.5 373.0 C2107.3 374.2 2110.1 375.4 2112.8 376.6 C2115.6 377.8 2118.4 378.9 2121.2 380.1 C2124.0 381.2 2126.9 382.3 2129.7 383.4 C2132.5 384.5 2135.4 385.5 2138.2 386.6 C2141.1 387.6 2143.9 388.6 2146.8 389.6 C2149.7 390.6 2152.6 391.6 2155.4 392.6 C2158.3 393.5 2161.2 394.5 2164.2 395.4 C2167.1 396.3 2170.0 397.2 2172.9 398.1 C2175.8 399.0 2178.8 399.8 2181.7 400.6 C2184.7 401.5 2187.6 402.3 2190.6 403.1 C2193.5 403.9 2196.5 404.7 2199.5 405.4 C2202.4 406.2 2205.4 407.0 2208.4 407.7 C2211.4 408.4 2214.4 409.1 2217.4 409.8 C2220.4 410.5 2223.4 411.2 2226.4 411.9 C2229.4 412.5 2232.4 413.2 2235.4 413.8 C2238.4 414.5 2241.4 415.1 2244.4 415.7 C2247.5 416.3 2250.5 416.9 2253.5 417.5 C2256.5 418.0 2259.6 418.6 2262.6 419.1 C2265.6 419.7 2268.6 420.2 2271.7 420.8 C2274.7 421.3 2277.7 421.8 2280.8 422.3 C2283.8 422.8 2286.8 423.3 2289.9 423.8 C2292.9 424.3 2295.9 424.7 2299.0 425.2 C2302.0 425.7 2305.0 426.1 2308.1 426.5 C2311.1 427.0 2314.1 427.4 2317.2 427.8 C2320.2 428.3 2323.2 428.7 2326.2 429.1 C2329.3 429.5 2332.3 429.9 2335.3 430.3 C2338.3 430.7 2341.3 431.0 2344.3 431.4 C2347.3 431.8 2350.4 432.2 2353.4 432.5 C2356.4 432.9 2359.4 433.3 2362.3 433.6 C2365.3 434.0 2368.3 434.3 2371.3 434.6 C2374.3 435.0 2377.3 435.3 2380.2 435.7 C2383.2 436.0 2387.6 436.5 2389.1 436.6" stroke="#00B0F0"/>
<path d="M1536.2 281.2 C1537.7 281.0 1542.2 280.4 1545.2 280.1 C1548.1 279.9 1551.1 279.8 1554.1 279.7 C1557.0 279.7 1560.0 279.7 1563.0 279.8 C1566.0 279.9 1569.0 280.1 1572.0 280.3 C1575.0 280.6 1578.0 280.8 1581.0 281.1 C1584.1 281.4 1587.1 281.7 1590.2 282.0 C1593.3 282.3 1596.4 282.6 1599.6 282.9 C1602.7 283.2 1605.9 283.5 1609.1 283.7 C1612.2 283.9 1615.4 284.1 1618.6 284.2 C1621.8 284.3 1625.0 284.4 1628.1 284.4 C1631.2 284.3 1634.4 284.2 1637.4 284.0 C1640.5 283.8 1643.6 283.4 1646.5 283.0 C1649.5 282.5 1652.4 281.9 1655.3 281.2 C1658.1 280.5 1660.9 279.7 1663.6 278.7 C1666.4 277.8 1669.0 276.7 1671.7 275.6 C1674.3 274.4 1676.9 273.1 1679.4 271.8 C1681.9 270.4 1684.4 268.9 1686.9 267.4 C1689.3 265.9 1691.7 264.2 1694.0 262.5 C1696.4 260.8 1698.7 259.0 1701.0 257.1 C1703.2 255.3 1705.5 253.3 1707.7 251.3 C1709.9 249.3 1712.1 247.2 1714.2 245.1 C1716.4 243.0 1718.5 240.8 1720.5 238.6 C1722.6 236.4 1724.7 234.1 1726.7 231.8 C1728.8 229.5 1730.8 227.2 1732.8 224.8 C1734.8 222.4 1736.8 220.0 1738.7 217.6 C1740.7 215.2 1742.6 212.7 1744.6 210.3 C1746.5 207.8 1748.4 205.3 1750.4 202.9 C1752.3 200.4 1754.2 197.9 1756.1 195.4 C1758.0 192.9 1759.9 190.5 1761.8 188.0 C1763.7 185.5 1765.6 183.1 1767.5 180.7 C1769.4 178.2 1771.3 175.8 1773.3 173.4 C1775.2 171.1 1777.1 168.7 1779.0 166.4 C1781.0 164.0 1782.9 161.7 1784.9 159.4 C1786.9 157.2 1788.9 154.9 1791.0 152.7 C1793.0 150.5 1795.1 148.3 1797.2 146.1 C1799.3 144.0 1801.4 141.8 1803.6 139.7 C1805.8 137.6 1808.1 135.5 1810.4 133.6 C1812.7 131.6 1815.0 129.6 1817.5 127.8 C1819.9 126.0 1822.3 124.4 1824.9 123.0 C1827.5 121.6 1830.1 120.4 1832.8 119.5 C1835.5 118.7 1838.3 118.1 1841.1 117.9 C1843.9 117.7 1846.8 117.8 1849.7 118.1 C1852.6 118.5 1855.6 119.1 1858.5 119.9 C1861.4 120.7 1864.3 121.8 1867.1 123.0 C1869.9 124.2 1872.6 125.5 1875.3 127.0 C1877.9 128.4 1880.5 130.0 1883.0 131.7 C1885.5 133.4 1887.9 135.2 1890.3 137.1 C1892.7 139.0 1894.9 141.0 1897.2 143.1 C1899.4 145.2 1901.6 147.4 1903.7 149.6 C1905.8 151.8 1907.9 154.1 1909.9 156.5 C1911.9 158.8 1913.9 161.3 1915.8 163.7 C1917.7 166.1 1919.6 168.6 1921.5 171.2 C1923.3 173.7 1925.1 176.2 1926.9 178.8 C1928.7 181.3 1930.5 183.9 1932.3 186.5 C1934.0 189.0 1935.7 191.6 1937.5 194.2 C1939.2 196.7 1940.9 199.2 1942.6 201.8 C1944.3 204.3 1946.0 206.8 1947.7 209.2 C1949.4 211.7 1951.1 214.1 1952.8 216.6 C1954.5 219.0 1956.2 221.4 1957.9 223.8 C1959.6 226.2 1961.4 228.6 1963.2 230.9 C1964.9 233.3 1966.7 235.6 1968.5 237.9 C1970.3 240.2 1972.2 242.5 1974.1 244.8 C1975.9 247.1 1977.8 249.3 1979.8 251.6 C1981.8 253.8 1983.8 256.0 1985.8 258.2 C1987.8 260.4 1989.9 262.6 1992.0 264.8 C1994.2 266.9 1996.3 269.1 1998.5 271.2 C2000.7 273.3 2002.9 275.4 2005.2 277.5 C2007.4 279.6 2009.7 281.6 2012.0 283.6 C2014.4 285.7 2016.7 287.7 2019.1 289.6 C2021.4 291.6 2023.8 293.6 2026.2 295.5 C2028.6 297.4 2031.0 299.3 2033.4 301.2 C2035.9 303.0 2038.3 304.9 2040.8 306.7 C2043.2 308.5 2045.7 310.2 2048.2 312.0 C2050.6 313.7 2053.1 315.4 2055.6 317.1 C2058.1 318.8 2060.6 320.4 2063.2 322.0 C2065.7 323.6 2068.3 325.2 2070.8 326.7 C2073.4 328.2 2076.0 329.7 2078.6 331.1 C2081.3 332.6 2083.9 334.0 2086.6 335.3 C2089.2 336.7 2091.9 338.0 2094.7 339.3 C2097.4 340.5 2100.1 341.8 2102.9 342.9 C2105.7 344.1 2108.4 345.3 2111.3 346.4 C2114.1 347.5 2116.9 348.5 2119.7 349.6 C2122.6 350.6 2125.4 351.6 2128.3 352.6 C2131.2 353.5 2134.1 354.5 2137.0 355.4 C2139.9 356.3 2142.8 357.1 2145.7 358.0 C2148.7 358.8 2151.6 359.6 2154.6 360.4 C2157.5 361.2 2160.5 361.9 2163.4 362.7 C2166.4 363.4 2169.4 364.1 2172.3 364.8 C2175.3 365.5 2178.3 366.1 2181.3 366.8 C2184.3 367.4 2187.3 368.0 2190.2 368.6 C2193.2 369.2 2196.2 369.8 2199.2 370.3 C2202.2 370.9 2205.2 371.4 2208.2 371.9 C2211.2 372.5 2214.2 373.0 2217.1 373.5 C2220.1 373.9 2223.1 374.4 2226.1 374.9 C2229.1 375.3 2232.1 375.7 2235.1 376.1 C2238.1 376.6 2241.1 377.0 2244.1 377.3 C2247.1 377.7 2250.1 378.1 2253.1 378.4 C2256.1 378.8 2259.1 379.1 2262.1 379.4 C2265.1 379.8 2268.1 380.1 2271.1 380.3 C2274.1 380.6 2277.1 380.9 2280.1 381.2 C2283.1 381.4 2286.2 381.7 2289.2 381.9 C2292.2 382.1 2295.2 382.3 2298.2 382.5 C2301.2 382.7 2304.2 382.9 2307.3 383.1 C2310.3 383.2 2313.3 383.4 2316.3 383.6 C2319.3 383.7 2322.4 383.8 2325.4 384.0 C2328.4 384.1 2331.4 384.2 2334.4 384.3 C2337.5 384.4 2340.5 384.5 2343.5 384.5 C2346.6 384.6 2349.6 384.7 2352.6 384.7 C2355.7 384.8 2358.7 384.8 2361.7 384.8 C2364.8 384.9 2367.8 384.9 2370.8 384.9 C2373.9 384.9 2376.9 384.9 2380.0 384.9 C2383.0 384.9 2387.6 384.8 2389.1 384.8" stroke="#7030A0"/>
<path d="M1536.2 419.0 C1537.7 418.8 1542.2 418.2 1545.2 417.9 C1548.1 417.5 1551.1 417.1 1554.2 416.8 C1557.2 416.5 1560.2 416.3 1563.2 416.3 C1566.2 416.3 1569.3 416.5 1572.3 416.9 C1575.4 417.3 1578.4 418.0 1581.5 418.8 C1584.5 419.6 1587.5 420.6 1590.6 421.7 C1593.6 422.7 1596.7 423.9 1599.7 424.9 C1602.7 426.0 1605.7 427.2 1608.8 428.1 C1611.8 429.1 1614.8 430.0 1617.8 430.7 C1620.8 431.4 1623.8 432.0 1626.7 432.3 C1629.7 432.7 1632.6 432.9 1635.6 433.0 C1638.5 433.1 1641.4 433.0 1644.3 432.7 C1647.2 432.5 1650.1 432.1 1653.0 431.7 C1655.8 431.2 1658.6 430.5 1661.5 429.8 C1664.3 429.1 1667.1 428.2 1669.8 427.3 C1672.6 426.4 1675.3 425.3 1678.0 424.2 C1680.7 423.0 1683.4 421.8 1686.0 420.5 C1688.7 419.2 1691.3 417.8 1693.9 416.4 C1696.5 414.9 1699.0 413.4 1701.5 411.8 C1704.1 410.3 1706.6 408.6 1709.1 406.9 C1711.5 405.2 1714.0 403.5 1716.4 401.7 C1718.8 399.9 1721.3 398.0 1723.7 396.2 C1726.1 394.3 1728.4 392.3 1730.8 390.4 C1733.2 388.4 1735.5 386.4 1737.8 384.4 C1740.2 382.4 1742.5 380.3 1744.8 378.3 C1747.1 376.2 1749.5 374.1 1751.8 372.0 C1754.1 369.9 1756.4 367.8 1758.7 365.7 C1761.0 363.6 1763.3 361.4 1765.6 359.3 C1767.9 357.2 1770.2 355.1 1772.5 353.0 C1774.8 350.8 1777.1 348.7 1779.4 346.7 C1781.7 344.6 1784.1 342.5 1786.4 340.4 C1788.7 338.4 1791.1 336.4 1793.4 334.4 C1795.8 332.3 1798.2 330.4 1800.6 328.4 C1802.9 326.5 1805.3 324.6 1807.8 322.7 C1810.2 320.8 1812.6 318.9 1815.1 317.1 C1817.5 315.3 1820.0 313.5 1822.4 311.8 C1824.9 310.0 1827.4 308.3 1829.9 306.7 C1832.5 305.0 1835.0 303.4 1837.6 301.8 C1840.1 300.2 1842.7 298.7 1845.3 297.2 C1847.9 295.7 1850.5 294.2 1853.2 292.9 C1855.8 291.5 1858.5 290.1 1861.2 288.8 C1863.9 287.5 1866.6 286.3 1869.3 285.1 C1872.1 283.9 1874.9 282.8 1877.7 281.7 C1880.4 280.7 1883.3 279.7 1886.1 278.7 C1889.0 277.8 1891.8 276.9 1894.7 276.1 C1897.6 275.3 1900.5 274.6 1903.5 274.0 C1906.4 273.4 1909.4 272.9 1912.3 272.5 C1915.3 272.1 1918.3 271.7 1921.3 271.5 C1924.3 271.4 1927.3 271.3 1930.3 271.3 C1933.3 271.3 1936.3 271.4 1939.4 271.6 C1942.4 271.7 1945.4 272.0 1948.5 272.3 C1951.5 272.5 1954.6 272.9 1957.6 273.2 C1960.7 273.5 1963.8 273.8 1966.8 274.2 C1969.9 274.5 1972.9 274.8 1976.0 275.1 C1979.0 275.3 1982.1 275.6 1985.1 275.7 C1988.1 275.9 1991.2 276.0 1994.2 276.1 C1997.2 276.1 2000.2 276.1 2003.2 276.2 C2006.2 276.3 2009.2 276.3 2012.2 276.4 C2015.2 276.6 2018.2 276.7 2021.2 277.0 C2024.1 277.3 2027.1 277.7 2030.1 278.3 C2033.0 278.8 2036.0 279.5 2038.9 280.3 C2041.9 281.1 2044.8 282.0 2047.7 283.0 C2050.7 284.0 2053.6 285.0 2056.5 286.1 C2059.4 287.1 2062.3 288.2 2065.2 289.4 C2068.1 290.5 2071.0 291.7 2073.9 292.8 C2076.8 294.0 2079.6 295.2 2082.5 296.3 C2085.4 297.5 2088.2 298.7 2091.1 299.9 C2093.9 301.0 2096.7 302.2 2099.6 303.4 C2102.4 304.6 2105.2 305.8 2108.0 307.0 C2110.9 308.2 2113.7 309.4 2116.5 310.6 C2119.3 311.8 2122.1 313.0 2124.9 314.2 C2127.7 315.4 2130.4 316.6 2133.2 317.9 C2136.0 319.1 2138.8 320.3 2141.5 321.5 C2144.3 322.8 2147.1 324.0 2149.8 325.2 C2152.6 326.5 2155.4 327.7 2158.1 329.0 C2160.9 330.2 2163.6 331.4 2166.3 332.7 C2169.1 334.0 2171.8 335.2 2174.6 336.5 C2177.3 337.7 2180.0 339.0 2182.8 340.3 C2185.5 341.6 2188.2 342.8 2190.9 344.1 C2193.7 345.4 2196.4 346.7 2199.1 348.0 C2201.8 349.3 2204.5 350.6 2207.3 351.9 C2210.0 353.2 2212.7 354.5 2215.4 355.8 C2218.1 357.1 2220.8 358.4 2223.5 359.8 C2226.3 361.1 2229.0 362.4 2231.7 363.8 C2234.4 365.1 2237.1 366.4 2239.8 367.8 C2242.5 369.1 2245.2 370.5 2247.9 371.8 C2250.7 373.2 2253.4 374.6 2256.1 375.9 C2258.8 377.3 2261.5 378.7 2264.2 380.1 C2267.0 381.4 2269.7 382.8 2272.4 384.2 C2275.1 385.6 2277.8 386.9 2280.6 388.3 C2283.3 389.7 2286.0 391.1 2288.7 392.4 C2291.5 393.8 2294.2 395.2 2296.9 396.5 C2299.7 397.9 2302.4 399.2 2305.2 400.6 C2307.9 401.9 2310.7 403.3 2313.4 404.6 C2316.2 405.9 2318.9 407.2 2321.7 408.5 C2324.5 409.9 2327.2 411.1 2330.0 412.4 C2332.8 413.7 2335.5 415.0 2338.3 416.2 C2341.1 417.5 2343.9 418.7 2346.7 419.9 C2349.5 421.2 2352.3 422.4 2355.1 423.5 C2357.9 424.7 2360.7 425.9 2363.5 427.0 C2366.3 428.2 2369.2 429.3 2372.0 430.4 C2374.8 431.5 2377.7 432.5 2380.5 433.6 C2383.4 434.6 2387.7 436.1 2389.1 436.6" stroke="#E36C0A"/>
<path d="M1536.2 383.4 C1537.8 383.3 1542.5 383.1 1545.6 383.0 C1548.7 382.8 1551.8 382.6 1554.9 382.5 C1557.9 382.4 1561.0 382.3 1564.1 382.2 C1567.2 382.2 1570.2 382.3 1573.3 382.5 C1576.3 382.7 1579.4 383.0 1582.4 383.4 C1585.4 383.7 1588.5 384.2 1591.5 384.7 C1594.5 385.2 1597.5 385.8 1600.5 386.4 C1603.5 387.0 1606.5 387.6 1609.5 388.3 C1612.5 388.9 1615.5 389.6 1618.5 390.2 C1621.4 390.9 1624.4 391.5 1627.4 392.1 C1630.3 392.7 1633.3 393.3 1636.2 393.8 C1639.2 394.3 1642.1 394.7 1645.0 395.1 C1648.0 395.4 1650.9 395.8 1653.8 395.9 C1656.7 396.1 1659.7 396.2 1662.6 396.2 C1665.5 396.2 1668.4 396.1 1671.3 395.8 C1674.2 395.5 1677.1 395.1 1679.9 394.6 C1682.8 394.0 1685.7 393.4 1688.6 392.6 C1691.5 391.9 1694.3 391.0 1697.2 390.1 C1700.0 389.2 1702.9 388.1 1705.8 387.1 C1708.6 386.0 1711.5 384.9 1714.3 383.8 C1717.1 382.6 1720.0 381.5 1722.8 380.3 C1725.6 379.1 1728.5 377.9 1731.3 376.7 C1734.1 375.6 1736.9 374.4 1739.8 373.2 C1742.6 372.0 1745.4 370.8 1748.2 369.6 C1751.0 368.4 1753.8 367.2 1756.6 365.9 C1759.4 364.7 1762.2 363.5 1765.0 362.3 C1767.8 361.1 1770.6 359.9 1773.4 358.6 C1776.2 357.4 1779.0 356.2 1781.8 354.9 C1784.6 353.7 1787.4 352.5 1790.2 351.2 C1793.0 350.0 1795.8 348.7 1798.6 347.5 C1801.4 346.2 1804.2 344.9 1807.0 343.7 C1809.8 342.4 1812.6 341.1 1815.4 339.9 C1818.2 338.6 1821.1 337.3 1823.9 336.0 C1826.7 334.8 1829.5 333.5 1832.3 332.2 C1835.1 330.9 1838.0 329.6 1840.8 328.3 C1843.6 327.0 1846.4 325.7 1849.3 324.5 C1852.1 323.2 1854.9 321.9 1857.8 320.7 C1860.6 319.5 1863.5 318.3 1866.3 317.1 C1869.2 315.9 1872.0 314.8 1874.9 313.7 C1877.8 312.7 1880.6 311.6 1883.5 310.6 C1886.4 309.7 1889.3 308.7 1892.1 307.9 C1895.0 307.1 1897.9 306.3 1900.8 305.6 C1903.7 304.9 1906.6 304.3 1909.5 303.7 C1912.4 303.2 1915.3 302.8 1918.2 302.4 C1921.2 302.1 1924.1 301.8 1927.0 301.6 C1929.9 301.4 1932.9 301.3 1935.8 301.2 C1938.7 301.1 1941.7 301.1 1944.6 301.0 C1947.6 301.0 1950.5 301.0 1953.5 301.0 C1956.4 301.0 1959.4 301.0 1962.4 301.0 C1965.3 300.9 1968.3 300.9 1971.3 300.7 C1974.3 300.5 1977.2 300.3 1980.2 299.8 C1983.2 299.4 1986.2 298.6 1989.2 298.0 C1992.1 297.5 1995.1 296.8 1998.1 296.3 C2001.1 295.8 2004.1 295.4 2007.1 295.1 C2010.1 294.8 2013.1 294.6 2016.1 294.4 C2019.1 294.3 2022.1 294.3 2025.1 294.3 C2028.1 294.3 2031.1 294.5 2034.1 294.7 C2037.1 294.9 2040.1 295.2 2043.1 295.5 C2046.1 295.9 2049.1 296.3 2052.1 296.7 C2055.1 297.2 2058.1 297.7 2061.1 298.2 C2064.1 298.7 2067.1 299.3 2070.1 299.8 C2073.1 300.3 2076.1 300.9 2079.1 301.4 C2082.1 302.0 2085.1 302.5 2088.1 303.1 C2091.1 303.6 2094.1 304.2 2097.1 304.8 C2100.1 305.3 2103.1 305.9 2106.1 306.5 C2109.1 307.0 2112.1 307.6 2115.1 308.2 C2118.1 308.8 2121.1 309.3 2124.1 309.9 C2127.1 310.5 2130.1 311.1 2133.0 311.7 C2136.0 312.3 2139.0 312.9 2142.0 313.5 C2145.0 314.1 2148.0 314.7 2151.0 315.3 C2154.0 315.9 2156.9 316.6 2159.9 317.2 C2162.9 317.8 2165.9 318.4 2168.9 319.1 C2171.8 319.7 2174.8 320.3 2177.8 321.0 C2180.8 321.6 2183.8 322.3 2186.7 322.9 C2189.7 323.6 2192.7 324.2 2195.6 324.9 C2198.6 325.5 2201.6 326.2 2204.6 326.9 C2207.5 327.5 2210.5 328.2 2213.5 328.9 C2216.4 329.6 2219.4 330.3 2222.4 330.9 C2225.3 331.6 2228.3 332.3 2231.2 333.0 C2234.2 333.7 2237.2 334.4 2240.1 335.1 C2243.1 335.9 2246.0 336.6 2249.0 337.3 C2251.9 338.0 2254.9 338.7 2257.8 339.5 C2260.8 340.2 2263.7 340.9 2266.7 341.7 C2269.6 342.4 2272.6 343.2 2275.5 343.9 C2278.4 344.7 2281.4 345.4 2284.3 346.2 C2287.2 347.0 2290.2 347.7 2293.1 348.5 C2296.1 349.3 2299.0 350.1 2301.9 350.9 C2304.8 351.7 2307.8 352.5 2310.7 353.3 C2313.6 354.1 2316.5 354.9 2319.5 355.7 C2322.4 356.5 2325.3 357.3 2328.2 358.1 C2331.1 358.9 2334.0 359.8 2337.0 360.6 C2339.9 361.4 2342.8 362.3 2345.7 363.1 C2348.6 364.0 2351.5 364.8 2354.4 365.7 C2357.3 366.6 2360.2 367.4 2363.1 368.3 C2366.0 369.2 2368.9 370.1 2371.8 370.9 C2374.7 371.8 2377.6 372.7 2380.5 373.6 C2383.3 374.5 2387.7 375.9 2389.1 376.3" stroke="#000"/>
<path d="M1536.2 393.2 C1537.8 393.0 1542.4 392.3 1545.5 392.1 C1548.5 391.8 1551.6 391.8 1554.7 391.8 C1557.7 391.8 1560.8 391.9 1563.8 392.2 C1566.9 392.4 1569.9 392.8 1573.0 393.2 C1576.0 393.6 1579.1 394.1 1582.1 394.7 C1585.1 395.2 1588.2 395.9 1591.2 396.5 C1594.2 397.2 1597.2 397.9 1600.3 398.6 C1603.3 399.3 1606.3 400.0 1609.3 400.7 C1612.3 401.5 1615.3 402.2 1618.3 402.9 C1621.3 403.6 1624.3 404.2 1627.3 404.9 C1630.3 405.5 1633.2 406.1 1636.2 406.6 C1639.2 407.2 1642.2 407.6 1645.1 408.0 C1648.1 408.4 1651.1 408.8 1654.0 409.0 C1657.0 409.3 1660.0 409.4 1662.9 409.5 C1665.9 409.5 1668.8 409.5 1671.8 409.3 C1674.7 409.2 1677.7 408.9 1680.6 408.6 C1683.5 408.3 1686.5 407.8 1689.4 407.3 C1692.3 406.8 1695.3 406.3 1698.2 405.7 C1701.1 405.0 1704.0 404.3 1706.9 403.6 C1709.8 402.9 1712.7 402.1 1715.6 401.2 C1718.6 400.4 1721.5 399.5 1724.4 398.6 C1727.3 397.7 1730.1 396.8 1733.0 395.8 C1735.9 394.9 1738.8 393.8 1741.7 392.8 C1744.6 391.8 1747.5 390.7 1750.3 389.7 C1753.2 388.6 1756.1 387.5 1759.0 386.3 C1761.9 385.2 1764.7 384.1 1767.6 382.9 C1770.5 381.7 1773.3 380.6 1776.2 379.4 C1779.1 378.2 1781.9 377.0 1784.8 375.7 C1787.7 374.5 1790.5 373.3 1793.4 372.1 C1796.2 370.8 1799.1 369.6 1802.0 368.4 C1804.8 367.1 1807.7 365.9 1810.5 364.6 C1813.4 363.4 1816.3 362.1 1819.1 360.9 C1822.0 359.7 1824.8 358.4 1827.7 357.2 C1830.6 356.0 1833.4 354.8 1836.3 353.6 C1839.1 352.4 1842.0 351.2 1844.9 350.0 C1847.7 348.8 1850.6 347.7 1853.5 346.6 C1856.3 345.4 1859.2 344.3 1862.1 343.2 C1864.9 342.1 1867.8 341.1 1870.7 340.1 C1873.5 339.0 1876.4 338.0 1879.3 337.1 C1882.2 336.1 1885.0 335.2 1887.9 334.3 C1890.8 333.4 1893.7 332.5 1896.6 331.7 C1899.5 330.9 1902.4 330.2 1905.3 329.5 C1908.1 328.7 1911.0 328.1 1913.9 327.5 C1916.8 326.9 1919.8 326.3 1922.7 325.8 C1925.6 325.3 1928.5 324.8 1931.4 324.4 C1934.3 324.0 1937.2 323.7 1940.2 323.4 C1943.1 323.1 1946.0 322.8 1949.0 322.5 C1951.9 322.2 1954.8 321.9 1957.8 321.5 C1960.7 321.1 1963.7 320.7 1966.6 320.2 C1969.6 319.7 1972.5 319.1 1975.5 318.4 C1978.4 317.7 1981.4 316.9 1984.4 316.1 C1987.3 315.3 1990.3 314.4 1993.3 313.5 C1996.2 312.7 1999.2 311.7 2002.2 310.8 C2005.1 309.9 2008.1 309.0 2011.1 308.1 C2014.1 307.3 2017.1 306.4 2020.1 305.7 C2023.1 304.9 2026.0 304.1 2029.0 303.4 C2032.0 302.6 2035.0 301.9 2038.0 301.3 C2041.0 300.6 2044.0 299.9 2047.0 299.3 C2050.0 298.7 2053.0 298.1 2056.0 297.6 C2059.0 297.0 2062.0 296.5 2065.1 296.0 C2068.1 295.5 2071.1 295.1 2074.1 294.6 C2077.1 294.2 2080.1 293.8 2083.1 293.4 C2086.2 293.0 2089.2 292.7 2092.2 292.4 C2095.2 292.0 2098.2 291.7 2101.2 291.4 C2104.3 291.2 2107.3 290.9 2110.3 290.7 C2113.3 290.4 2116.4 290.2 2119.4 290.1 C2122.4 289.9 2125.4 289.7 2128.5 289.6 C2131.5 289.4 2134.5 289.3 2137.5 289.2 C2140.6 289.1 2143.6 289.1 2146.6 289.0 C2149.7 289.0 2152.7 289.0 2155.7 289.0 C2158.7 289.0 2161.8 289.0 2164.8 289.0 C2167.8 289.1 2170.9 289.2 2173.9 289.3 C2176.9 289.4 2179.9 289.5 2183.0 289.6 C2186.0 289.8 2189.0 290.0 2192.1 290.1 C2195.1 290.3 2198.1 290.6 2201.1 290.8 C2204.2 291.1 2207.2 291.3 2210.2 291.6 C2213.2 291.9 2216.3 292.2 2219.3 292.6 C2222.3 292.9 2225.3 293.3 2228.3 293.7 C2231.4 294.1 2234.4 294.5 2237.4 295.0 C2240.4 295.4 2243.4 295.9 2246.4 296.4 C2249.4 296.9 2252.5 297.4 2255.5 298.0 C2258.5 298.5 2261.5 299.1 2264.5 299.7 C2267.5 300.3 2270.5 300.9 2273.5 301.6 C2276.5 302.2 2279.5 302.9 2282.5 303.5 C2285.5 304.2 2288.5 304.9 2291.5 305.6 C2294.5 306.3 2297.5 307.1 2300.5 307.8 C2303.4 308.5 2306.4 309.3 2309.4 310.1 C2312.4 310.8 2315.4 311.6 2318.3 312.4 C2321.3 313.1 2324.3 313.9 2327.3 314.7 C2330.2 315.5 2333.2 316.3 2336.2 317.1 C2339.1 317.9 2342.1 318.7 2345.0 319.5 C2348.0 320.3 2351.0 321.1 2353.9 321.8 C2356.9 322.6 2359.8 323.4 2362.7 324.2 C2365.7 325.0 2368.6 325.7 2371.6 326.5 C2374.5 327.3 2377.4 328.0 2380.3 328.8 C2383.3 329.5 2387.7 330.6 2389.1 330.9" stroke="#92D050"/>
<path d="M1536.2 344.6 C1537.8 344.6 1542.5 344.8 1545.6 344.8 C1548.7 344.8 1551.8 344.8 1554.9 344.7 C1558.0 344.7 1561.0 344.6 1564.1 344.5 C1567.2 344.5 1570.3 344.4 1573.4 344.5 C1576.4 344.5 1579.5 344.6 1582.6 344.8 C1585.6 345.1 1588.7 345.4 1591.7 345.8 C1594.8 346.3 1597.8 346.9 1600.8 347.6 C1603.9 348.2 1606.9 349.1 1609.9 349.8 C1613.0 350.6 1616.0 351.5 1619.0 352.3 C1622.0 353.1 1625.0 353.9 1628.0 354.7 C1631.0 355.4 1634.0 356.1 1637.0 356.6 C1640.0 357.1 1642.9 357.5 1645.9 357.8 C1648.9 358.1 1651.8 358.2 1654.8 358.3 C1657.8 358.3 1660.7 358.3 1663.6 358.1 C1666.6 357.9 1669.5 357.7 1672.5 357.3 C1675.4 357.0 1678.3 356.5 1681.2 356.0 C1684.1 355.4 1687.1 354.8 1690.0 354.1 C1692.9 353.4 1695.8 352.7 1698.6 351.8 C1701.5 351.0 1704.4 350.1 1707.3 349.2 C1710.2 348.2 1713.0 347.2 1715.9 346.2 C1718.7 345.2 1721.6 344.1 1724.4 342.9 C1727.3 341.8 1730.1 340.7 1732.9 339.5 C1735.8 338.3 1738.6 337.1 1741.4 335.9 C1744.2 334.6 1747.0 333.4 1749.8 332.1 C1752.6 330.9 1755.4 329.6 1758.2 328.3 C1761.0 326.9 1763.8 325.6 1766.5 324.3 C1769.3 322.9 1772.1 321.6 1774.9 320.2 C1777.6 318.9 1780.4 317.5 1783.2 316.1 C1785.9 314.7 1788.7 313.3 1791.4 311.9 C1794.2 310.5 1796.9 309.1 1799.7 307.6 C1802.4 306.2 1805.2 304.8 1807.9 303.4 C1810.7 301.9 1813.4 300.5 1816.1 299.1 C1818.9 297.6 1821.6 296.2 1824.4 294.8 C1827.1 293.3 1829.8 291.9 1832.6 290.5 C1835.3 289.1 1838.0 287.6 1840.8 286.2 C1843.5 284.8 1846.3 283.4 1849.0 282.0 C1851.8 280.6 1854.5 279.2 1857.2 277.8 C1860.0 276.4 1862.7 275.0 1865.5 273.7 C1868.2 272.3 1871.0 271.0 1873.8 269.6 C1876.5 268.3 1879.3 267.0 1882.0 265.7 C1884.8 264.4 1887.6 263.1 1890.4 261.8 C1893.1 260.6 1895.9 259.3 1898.7 258.1 C1901.5 256.9 1904.3 255.7 1907.1 254.5 C1909.9 253.4 1912.7 252.2 1915.5 251.1 C1918.3 250.0 1921.1 248.9 1923.9 247.8 C1926.8 246.8 1929.6 245.7 1932.4 244.7 C1935.3 243.7 1938.1 242.8 1941.0 241.9 C1943.8 241.0 1946.7 240.1 1949.6 239.4 C1952.5 238.7 1955.3 238.1 1958.2 237.5 C1961.1 237.0 1964.0 236.8 1966.9 236.2 C1969.8 235.6 1972.7 234.9 1975.6 234.0 C1978.5 233.0 1981.5 231.7 1984.4 230.5 C1987.3 229.3 1990.2 227.9 1993.2 226.6 C1996.1 225.4 1999.1 224.1 2002.0 223.0 C2005.0 221.9 2007.9 220.9 2010.9 220.1 C2013.8 219.2 2016.8 218.5 2019.8 217.9 C2022.7 217.3 2025.7 216.8 2028.7 216.3 C2031.7 215.9 2034.7 215.6 2037.6 215.3 C2040.6 215.1 2043.6 214.9 2046.6 214.7 C2049.6 214.6 2052.6 214.5 2055.6 214.4 C2058.6 214.4 2061.6 214.3 2064.6 214.3 C2067.6 214.3 2070.7 214.2 2073.7 214.2 C2076.7 214.2 2079.7 214.1 2082.7 214.0 C2085.7 214.0 2088.8 213.8 2091.8 213.7 C2094.8 213.6 2097.8 213.4 2100.9 213.2 C2103.9 213.1 2106.9 212.9 2110.0 212.7 C2113.0 212.5 2116.0 212.4 2119.1 212.2 C2122.1 212.1 2125.1 211.9 2128.2 211.9 C2131.2 211.8 2134.3 211.7 2137.3 211.7 C2140.3 211.8 2143.4 211.8 2146.4 211.9 C2149.5 212.0 2152.5 212.2 2155.5 212.4 C2158.6 212.6 2161.6 212.8 2164.7 213.1 C2167.7 213.4 2170.7 213.8 2173.8 214.1 C2176.8 214.5 2179.9 214.9 2182.9 215.3 C2185.9 215.8 2189.0 216.2 2192.0 216.7 C2195.0 217.2 2198.1 217.7 2201.1 218.3 C2204.2 218.8 2207.2 219.4 2210.2 220.0 C2213.3 220.6 2216.3 221.2 2219.3 221.8 C2222.4 222.4 2225.4 223.1 2228.4 223.7 C2231.5 224.4 2234.5 225.1 2237.5 225.7 C2240.6 226.4 2243.6 227.1 2246.6 227.8 C2249.6 228.4 2252.7 229.1 2255.7 229.8 C2258.7 230.5 2261.7 231.2 2264.7 231.8 C2267.8 232.5 2270.8 233.2 2273.8 233.9 C2276.8 234.5 2279.8 235.2 2282.8 235.8 C2285.8 236.5 2288.9 237.2 2291.9 237.8 C2294.9 238.5 2297.9 239.1 2300.9 239.8 C2303.9 240.4 2306.9 241.1 2309.9 241.7 C2312.9 242.4 2315.9 243.0 2318.9 243.7 C2321.8 244.3 2324.8 244.9 2327.8 245.6 C2330.8 246.2 2333.8 246.9 2336.8 247.5 C2339.7 248.2 2342.7 248.8 2345.7 249.4 C2348.7 250.1 2351.6 250.7 2354.6 251.4 C2357.5 252.0 2360.5 252.7 2363.5 253.3 C2366.4 254.0 2369.4 254.6 2372.3 255.3 C2375.3 256.0 2378.2 256.6 2381.2 257.3 C2384.1 257.9 2388.5 258.9 2390.0 259.3" stroke="#C00000"/>
</g>
<g class="c" style="stroke-width:5.2;stroke-linecap:round">
<path d="M634 94H669M728 94H758M688.6 94h0.01M708 94h0.01" stroke="#000" style="stroke-width:6"/>
<path d="M634 163.4H758.4" stroke="#00B0F0"/>
<path d="M634 237.8H758.4" stroke="#7030A0"/>
<path d="M634 306.7H758.4" stroke="#E36C0A"/>
<path d="M634 375.6H758.4" stroke="#000"/>
<path d="M634 445.3H758.4" stroke="#92D050"/>
<path d="M634 514.2H758.4" stroke="#C00000"/>
</g>
<text id="leg0" x="772.5" y="117.8" textLength="454.3" lengthAdjust="spacing">0.25 mM Au+3</text>
<text id="leg1" x="773.3" y="187.5" textLength="98.2" lengthAdjust="spacing">1%</text>
<text id="leg2" x="769.8" y="261.2" textLength="102.2" lengthAdjust="spacing">2%</text>
<text id="leg3" x="771.7" y="329.6" textLength="100.2" lengthAdjust="spacing">5%</text>
<text id="leg4" x="770.7" y="399.1" textLength="195.0" lengthAdjust="spacing">7.50%</text>
<text id="leg5" x="773.2" y="468.4" textLength="139.6" lengthAdjust="spacing">10%</text>
<text id="leg6" x="773.2" y="538.3" textLength="139.6" lengthAdjust="spacing">15%</text>
<text id="my0" x="156.8" y="1194.4">0</text>
<text id="my1" x="156.8" y="862.0">1</text>
<text id="my2" x="156.8" y="526.0">2</text>
<text id="my3" x="156.8" y="197.1">3</text>
<text id="mx2" x="194.8" y="1279.2" textLength="118.8" lengthAdjust="spacing">200</text>
<text id="mx3" x="550.4" y="1279.2" textLength="117.8" lengthAdjust="spacing">300</text>
<text id="mx4" x="905.0" y="1279.2" textLength="118.8" lengthAdjust="spacing">400</text>
<text id="mx5" x="1260.4" y="1279.2" textLength="117.8" lengthAdjust="spacing">500</text>
<text id="mx6" x="1613.0" y="1279.2" textLength="118.8" lengthAdjust="spacing">600</text>
<text id="mx7" x="1967.3" y="1279.1" textLength="117.3" lengthAdjust="spacing">700</text>
<text id="mxt" x="1074.5" y="1396.3" textLength="526.9" lengthAdjust="spacing">Wavelength (nm)</text>
<text id="iy0" x="1439.5" y="681.2" textLength="38.9" lengthAdjust="spacing">0</text>
<text id="iy1" x="1342.9" y="488.2" textLength="132.2" lengthAdjust="spacing">0.15</text>
<text id="iy2" x="1380.7" y="291.4" textLength="98.3" lengthAdjust="spacing">0.3</text>
<text id="iy3" x="1342.9" y="93.2" textLength="132.2" lengthAdjust="spacing">0.45</text>
<text id="ix4" x="1478.3" y="765.8" textLength="117.8" lengthAdjust="spacing">450</text>
<text id="ix5" x="1820.3" y="765.8" textLength="116.8" lengthAdjust="spacing">550</text>
<text id="ix6" x="2160.5" y="765.8" textLength="119.8" lengthAdjust="spacing">650</text>
<text id="ixt" x="1729.7" y="866.8" textLength="523.4" lengthAdjust="spacing">Wavelength (nm)</text>
<text id="myt" transform="translate(85.9 938.0) rotate(-90)" textLength="533.0" lengthAdjust="spacing">Absorbance (a.u)</text>
<text id="iyt" transform="translate(1320.9 637.5) rotate(-90)" textLength="533.5" lengthAdjust="spacing">Absorbance (a.u)</text>
</svg></body></html>
